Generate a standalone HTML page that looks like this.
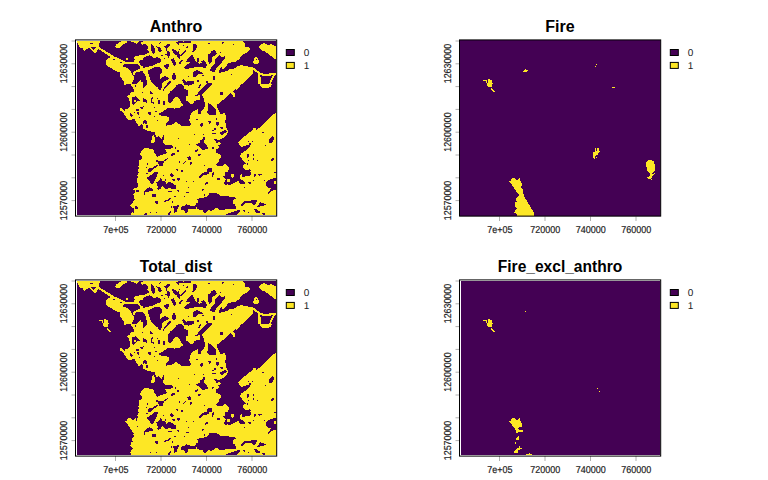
<!DOCTYPE html>
<html><head><meta charset="utf-8"><title>plot</title>
<style>
html,body{margin:0;padding:0;background:#fff;}
svg{display:block;}
text{font-family:"Liberation Sans",sans-serif;}
.t{font-size:16px;font-weight:bold;text-anchor:middle;fill:#000;}
.a{font-size:10px;text-rendering:geometricPrecision;stroke:#222;stroke-width:0.2px;text-anchor:middle;fill:#222;}
.l{font-size:10px;text-rendering:geometricPrecision;fill:#222;}
</style></head><body>
<svg width="768" height="480" viewBox="0 0 768 480">
<rect width="768" height="480" fill="#fff"/>
<g transform="translate(0,0)">
<text class="t" x="176" y="31.8">Anthro</text>
<rect x="77" y="41" width="199.3" height="174" fill="#440154"/>
<clipPath id="c0"><rect x="77" y="41" width="199.3" height="174"/></clipPath>
<g clip-path="url(#c0)" shape-rendering="crispEdges">
<clipPath id="c0t00"><rect x="76" y="40" width="67" height="44"/></clipPath>
<g clip-path="url(#c0t00)">
<polygon fill="#FDE725" points="76.9,40.9 100.0,40.9 100.0,42.6 98.5,44.1 98.5,46.2 100.3,48.1 98.5,49.2 97.3,50.3 96.3,52.4 94.8,53.8 93.4,52.4 92.3,50.5 90.7,48.7 88.8,47.8 86.8,49.2 84.4,50.8 82.9,49.2 82.6,48.1 80.1,47.5 78.8,45.5 77.7,43.7 76.9,42.8"/>
<polygon fill="#440154" points="89.6,42.6 92.5,42.6 92.5,44.1 89.6,44.1"/>
<polygon fill="#440154" points="91.1,47.3 95.7,47.3 94.8,49.2 93.4,50.1 92.0,48.7"/>
<polygon fill="#FDE725" points="98.5,46.2 100.3,47.8 102.6,49.2 105.3,50.8 108.5,52.8 111.8,54.7 114.5,56.3 112.7,57.9 109.9,56.5 107.2,54.7 104.4,52.8 101.7,51.2 99.4,49.6 98.0,48.7"/>
<polygon fill="#FDE725" points="107.6,58.8 110.4,57.4 112.7,57.0 115.0,56.5 117.7,57.9 120.5,59.2 123.7,60.9 126.0,62.5 124.6,64.0 123.2,65.7 123.7,67.0 126.0,67.5 128.7,68.9 130.5,70.7 131.0,73.0 132.4,74.4 133.8,76.2 133.8,79.4 132.8,80.8 131.9,84.0 123.7,84.0 123.7,81.2 122.3,79.4 120.9,77.6 120.0,75.3 120.0,72.5 117.7,71.6 114.5,70.2 112.2,68.9 109.9,67.5 107.6,66.6 106.2,64.8 106.1,62.0 106.7,59.7"/>
<polygon fill="#440154" points="113.1,58.8 115.0,58.8 115.0,60.0 113.1,60.0"/>
<polygon fill="#440154" points="120.0,62.0 122.3,62.0 122.3,63.4 120.0,63.4"/>
<polygon fill="#FDE725" points="123.2,61.5 127.3,62.0 133.8,62.0 134.7,64.0 131.0,64.0 127.3,64.3 124.6,64.0"/>
<polygon fill="#FDE725" points="115.2,46.4 116.3,44.6 118.2,43.2 120.0,41.6 126.9,41.1 126.9,42.3 125.0,43.7 122.8,44.6 121.4,46.4 120.0,47.8 116.3,47.8"/>
<polygon fill="#FDE725" points="126.0,57.9 128.1,57.9 128.1,60.0 126.0,60.0"/>
<polygon fill="#FDE725" points="130.1,40.9 139.2,40.9 138.3,42.3 137.0,44.1 135.6,42.8 132.8,42.3 131.0,41.8"/>
<polygon fill="#FDE725" points="141.5,42.3 143.0,41.8 143.0,45.5 142.0,45.3 141.3,44.1"/>
<polygon fill="#FDE725" points="133.3,58.3 134.7,56.5 139.2,55.4 143.8,54.7 143.8,70.2 141.5,69.3 140.2,67.5 139.2,65.7 137.4,64.3 134.7,64.0 133.3,62.0 134.7,59.7"/>
<polygon fill="#440154" points="139.2,61.1 141.1,60.2 143.8,60.6 143.8,66.6 141.5,65.7 140.2,64.3 139.2,62.9"/>
<polygon fill="#FDE725" points="143.8,67.5 143.8,71.2 139.2,71.6 136.5,72.1 135.1,73.5 134.2,76.2 132.4,74.4 133.3,72.1 135.1,70.7 138.3,69.5 140.6,68.4"/>
<polygon fill="#FDE725" points="136.5,84.0 138.3,81.7 140.2,80.3 141.3,80.3 141.5,82.2 143.8,82.6 143.8,84.9 136.5,84.9"/>
</g>
<clipPath id="c0t10"><rect x="143" y="40" width="67" height="44"/></clipPath>
<g clip-path="url(#c0t10)">
<polygon fill="#FDE725" points="142.5,39.5 210.8,39.5 210.8,84.9 142.5,84.9"/>
<polygon fill="#440154" points="143.0,44.6 144.8,44.1 147.1,45.0 148.0,47.3 147.6,50.1 146.7,52.4 144.8,54.2 143.0,54.7"/>
<polygon fill="#440154" points="150.8,44.6 153.1,44.1 154.5,46.4 154.9,49.2 155.4,52.8 153.5,53.8 151.7,52.4 151.1,49.6 150.3,47.3"/>
<polygon fill="#440154" points="156.8,46.4 159.0,46.9 160.9,49.2 161.3,51.5 159.5,52.4 158.1,50.5 156.8,48.7"/>
<polygon fill="#440154" points="164.5,46.4 166.4,44.6 169.6,44.1 169.6,46.0 168.2,47.8 168.7,50.1 170.0,51.9 169.6,54.7 168.7,57.0 167.3,56.0 166.4,54.2 164.5,53.8 165.0,51.9 166.4,50.1 165.9,48.2"/>
<polygon fill="#440154" points="176.5,40.0 190.7,40.0 190.7,42.3 187.0,42.8 184.2,43.7 181.5,43.2 179.2,44.6 177.4,43.7"/>
<polygon fill="#440154" points="172.3,49.6 174.6,49.2 176.5,50.5 177.4,52.4 179.2,53.8 180.6,55.6 179.7,57.9 178.3,58.3 176.9,56.5 175.1,54.7 173.7,52.8 172.8,51.5"/>
<polygon fill="#440154" points="187.5,46.0 188.8,46.9 187.9,48.7 186.1,50.5 184.2,52.8 182.4,55.1 181.0,56.5 180.4,55.1 182.0,53.3 183.8,51.0 185.6,48.7"/>
<polygon fill="#440154" points="193.0,44.1 195.7,43.7 197.1,45.5 196.6,48.2 195.2,50.1 193.9,51.0 193.0,52.4 192.0,51.9 193.0,49.2 193.2,46.9"/>
<polygon fill="#440154" points="143.0,58.3 145.8,57.4 148.5,56.0 151.7,55.6 154.9,57.9 158.1,57.4 160.4,58.8 160.9,61.5 159.5,62.9 156.8,63.4 154.0,64.8 151.2,65.2 148.5,66.1 145.8,67.0 143.0,68.0"/>
<polygon fill="#440154" points="147.1,69.3 149.4,68.0 153.1,67.0 156.8,66.6 160.4,67.5 162.7,69.3 162.2,71.6 160.9,73.5 160.0,76.2 160.4,78.5 162.7,76.7 165.0,75.8 167.8,76.2 169.6,78.0 167.8,80.3 165.9,82.2 164.1,84.9 150.8,84.9 150.3,81.2 149.4,78.5 148.5,75.8 148.0,72.5"/>
<polygon fill="#440154" points="143.0,73.0 144.4,73.5 145.8,76.7 146.7,80.3 147.1,84.9 143.0,84.9"/>
<polygon fill="#440154" points="163.6,65.7 165.9,64.3 169.1,64.0 169.6,65.7 168.2,67.5 167.3,69.8 165.9,68.4 164.5,67.5"/>
<polygon fill="#440154" points="171.0,59.2 173.2,58.3 174.6,60.6 175.5,62.9 176.0,65.7 174.6,66.6 173.2,64.8 171.9,62.5"/>
<polygon fill="#440154" points="182.0,59.7 183.2,60.2 182.0,62.0 180.1,64.0 179.2,63.4 180.6,61.5"/>
<polygon fill="#440154" points="186.1,61.1 187.9,59.2 189.8,57.4 191.6,55.1 193.0,54.7 193.4,57.0 194.3,58.8 195.2,61.1 197.1,62.0 198.0,63.4 200.3,62.5 202.1,60.6 204.0,60.2 205.3,62.9 206.2,66.6 206.7,69.3 204.4,69.8 201.7,68.4 198.9,67.5 196.2,68.0 193.4,68.4 190.7,68.9 187.5,69.3 184.2,69.8 184.2,67.0 186.1,65.7 187.9,64.3 187.0,62.5"/>
<polygon fill="#440154" points="197.1,58.3 198.9,57.9 199.1,60.6 198.0,62.5 196.9,61.1"/>
<polygon fill="#440154" points="208.5,53.8 210.8,53.8 210.8,63.8 208.5,63.4 208.1,58.3"/>
<polygon fill="#440154" points="193.0,73.0 195.2,70.7 198.0,70.7 199.4,71.6 202.6,72.1 201.7,73.5 198.9,73.9 197.5,75.3 195.7,76.7 193.9,77.6 192.5,76.7"/>
<polygon fill="#440154" points="172.3,75.8 173.7,73.0 175.1,74.4 176.5,77.1 175.5,79.4 173.7,79.9 172.2,78.5"/>
<polygon fill="#440154" points="181.5,80.3 184.2,79.0 185.2,80.8 187.9,81.7 190.7,80.3 193.0,79.4 194.3,81.2 193.9,84.9 182.4,84.9"/>
<polygon fill="#440154" points="197.1,80.3 199.4,79.9 199.8,82.2 198.0,83.1 196.9,82.2"/>
<polygon fill="#440154" points="207.2,81.2 208.5,80.8 209.0,84.9 207.2,84.9"/>
<polygon fill="#440154" points="187.9,75.8 189.3,75.8 189.3,77.1 187.9,77.1"/>
<polygon fill="#440154" points="163.6,57.4 165.0,57.4 165.0,58.8 163.6,58.8"/>
<polygon fill="#440154" points="159.0,41.8 160.9,41.8 160.0,43.7 158.6,44.1"/>
<polygon fill="#440154" points="208.1,42.8 210.8,42.8 210.8,44.6 208.5,44.4"/>
<polygon fill="#440154" points="201.7,74.8 204.0,74.4 203.5,75.8 201.7,76.2"/>
<polygon fill="#440154" points="168.7,81.2 171.4,80.3 170.5,82.6 169.1,84.9 167.3,84.9"/>
</g>
<clipPath id="c0t20"><rect x="210" y="40" width="67" height="44"/></clipPath>
<g clip-path="url(#c0t20)">
<polygon fill="#FDE725" points="209.5,40.0 242.1,40.0 244.4,42.8 245.3,45.0 244.8,47.3 247.6,46.9 249.9,48.2 249.4,50.1 247.6,51.5 245.8,53.3 243.0,54.7 240.7,56.0 240.2,57.9 238.4,59.7 237.7,60.3 235.9,61.7 233.7,62.5 231.9,62.0 230.7,62.8 227.5,63.7 226.7,65.5 224.8,67.8 222.8,69.0 221.4,67.0 220.5,68.1 219.1,70.2 219.2,73.0 209.5,73.0"/>
<polygon fill="#440154" points="209.5,53.8 210.0,53.6 211.5,51.5 213.6,50.1 215.6,50.6 216.7,53.3 216.1,54.7 214.4,55.6 212.9,56.8 212.1,58.2 211.7,60.3 211.5,62.5 210.4,63.5 209.2,63.5 209.2,59.7 209.4,57.4"/>
<polygon fill="#440154" points="219.3,55.0 220.5,55.9 221.7,57.6 223.1,57.3 224.6,56.1 224.8,59.1 223.5,60.3 222.0,62.0 220.5,63.7 218.8,65.5 217.3,67.2 215.6,68.7 215.3,71.3 215.9,72.5 213.8,72.5 212.1,71.3 210.4,70.7 210.4,69.0 211.5,67.2 212.9,65.5 213.8,64.3 214.9,63.2 215.3,59.6 216.7,57.9 218.2,56.1"/>
<polygon fill="#440154" points="221.5,42.3 223.8,41.8 223.3,43.7 221.5,44.1"/>
<polygon fill="#440154" points="232.7,43.7 234.0,43.7 234.0,45.0 232.7,45.0"/>
<polygon fill="#440154" points="219.9,51.7 221.2,51.7 221.2,53.0 219.9,53.0"/>
<polygon fill="#FDE725" points="209.5,71.6 219.2,72.5 220.5,72.7 223.8,71.9 226.0,71.3 228.1,70.4 229.5,69.2 231.3,68.7 234.8,68.4 236.6,67.0 238.3,66.0 240.0,65.5 241.2,65.2 246.7,66.1 250.3,67.0 253.1,67.5 253.5,70.2 253.1,73.0 251.2,75.3 249.4,76.7 247.6,78.5 245.8,80.8 243.9,82.6 242.1,84.9 209.5,84.9"/>
<polygon fill="#440154" points="212.8,76.2 215.0,76.2 215.0,80.8 212.8,80.8"/>
<polygon fill="#440154" points="230.9,73.7 232.2,73.7 232.2,75.0 230.9,75.0"/>
<polygon fill="#FDE725" points="252.6,67.5 254.9,68.6 257.7,70.7 260.4,72.8 260.0,74.8 257.2,73.0 254.9,71.2 252.9,69.5"/>
<polygon fill="#FDE725" points="260.0,73.0 265.0,73.9 273.2,73.0 277.8,72.1 277.8,74.4 273.7,75.3 265.0,75.9 260.4,75.3"/>
<polygon fill="#FDE725" points="257.7,72.5 260.2,73.0 260.4,76.7 260.9,80.3 261.3,84.9 257.7,84.9 257.7,80.3 257.5,76.7"/>
<polygon fill="#FDE725" points="273.2,74.8 274.6,75.3 273.2,78.5 271.9,81.2 270.5,84.9 268.7,84.9 270.0,81.2 271.6,78.0"/>
<polygon fill="#FDE725" points="259.0,46.4 260.4,44.6 264.1,43.2 265.9,44.1 268.7,45.0 271.0,44.1 274.2,45.5 277.8,46.4 277.8,59.7 274.2,59.2 272.8,57.0 270.5,56.0 268.7,54.7 266.8,52.8 265.0,51.5 262.2,50.5 260.0,49.2"/>
<polygon fill="#FDE725" points="254.9,56.5 256.3,56.5 257.7,58.3 259.0,60.6 258.6,63.4 255.8,64.0 253.5,63.4 253.1,61.5 254.0,59.7 254.5,57.9"/>
<polygon fill="#440154" points="255.8,58.8 257.3,58.8 257.3,60.4 255.8,60.4"/>
</g>
<clipPath id="c0t01"><rect x="76" y="84" width="67" height="44"/></clipPath>
<g clip-path="url(#c0t01)">
<polygon fill="#FDE725" points="123.7,83.5 126.0,83.5 126.0,84.9 123.7,84.9"/>
<polygon fill="#FDE725" points="131.0,83.5 143.8,83.5 143.8,125.2 141.5,124.3 140.2,125.4 138.8,126.0 137.4,124.3 136.0,122.5 135.1,120.2 133.8,118.4 131.5,119.6 129.2,119.9 126.9,118.7 126.0,116.1 124.1,114.2 122.3,112.0 120.5,110.6 120.0,108.6 121.8,108.0 123.2,109.8 124.6,111.0 126.0,108.6 127.3,109.8 128.7,107.8 130.1,106.5 130.3,103.7 129.6,101.0 129.2,99.1 127.3,97.3 127.3,95.7 129.6,94.8 131.0,92.7 133.3,91.8 134.7,90.2 133.3,88.6 132.1,86.8 131.2,85.1"/>
<polygon fill="#440154" points="131.9,97.8 133.8,96.8 136.0,96.4 137.4,97.8 139.2,99.1 139.7,100.5 137.4,101.0 136.0,101.9 134.7,103.7 134.2,105.5 132.8,104.6 132.1,102.3 131.9,100.0"/>
<polygon fill="#FDE725" points="133.9,100.0 136.0,99.6 136.5,101.4 134.7,102.3"/>
<polygon fill="#440154" points="136.0,109.2 138.8,109.2 138.8,111.0 136.0,111.0"/>
<polygon fill="#440154" points="130.1,113.3 131.9,113.8 132.8,115.6 131.0,117.0 129.9,115.6"/>
<polygon fill="#440154" points="137.4,112.4 139.2,112.0 139.2,114.7 137.6,114.7"/>
<polygon fill="#440154" points="134.7,85.4 135.8,85.4 135.8,86.8 134.7,86.8"/>
<polygon fill="#440154" points="141.5,91.8 143.8,91.8 143.8,93.2 141.5,93.2"/>
<polygon fill="#440154" points="140.2,107.4 142.5,107.4 143.8,108.8 140.6,108.6"/>
<polygon fill="#440154" points="139.2,117.0 140.3,117.0 140.3,118.1 139.2,118.1"/>
<polygon fill="#440154" points="133.6,112.0 135.1,111.5 135.1,113.2 133.8,113.3"/>
</g>
<clipPath id="c0t11"><rect x="143" y="84" width="67" height="44"/></clipPath>
<g clip-path="url(#c0t11)">
<polygon fill="#FDE725" points="142.5,83.5 210.8,83.5 210.8,128.9 142.5,128.9"/>
<polygon fill="#440154" points="176.9,83.5 184.2,83.5 184.2,86.3 185.6,87.7 187.0,89.5 187.5,92.2 186.5,95.0 185.6,97.8 185.2,100.0 187.0,101.4 189.3,102.3 190.7,104.2 193.0,103.7 195.2,101.9 198.0,101.0 200.3,99.1 199.8,96.8 198.9,95.0 200.8,94.1 202.6,95.9 204.0,98.7 204.6,101.4 204.4,105.1 203.0,107.4 201.7,108.8 202.1,111.0 201.2,113.3 199.4,114.7 197.5,114.2 197.1,112.0 198.0,109.7 195.7,110.1 193.4,111.5 191.1,112.9 190.2,115.6 189.3,118.4 188.8,121.1 189.8,123.4 191.1,125.2 189.8,126.2 187.0,125.7 184.2,126.6 181.5,125.7 179.2,124.3 177.4,123.0 175.5,121.6 173.7,123.4 171.4,124.8 168.7,125.2 165.5,125.7 166.4,123.4 168.2,121.6 169.6,119.3 169.1,117.5 166.8,116.5 163.6,116.1 160.9,115.6 159.0,114.2 159.5,112.9 161.8,112.0 164.1,110.6 166.4,109.2 167.8,107.7 170.5,108.0 174.2,108.6 177.8,108.0 180.6,107.4 182.4,105.5 182.6,103.2 181.5,101.4 180.1,99.6 178.8,98.7 178.8,96.4 177.4,95.0 175.5,95.9 173.7,97.8 172.3,100.0 171.4,102.3 170.0,103.7 168.7,102.8 167.8,101.0 167.6,98.7 168.2,96.4 167.8,94.1 169.1,92.2 171.4,90.9 174.2,89.0 176.0,86.8"/>
<polygon fill="#FDE725" points="175.1,101.0 176.2,101.0 176.2,102.0 175.1,102.0"/>
<polygon fill="#440154" points="142.5,83.5 147.6,83.5 147.6,85.8 145.8,86.8 143.9,88.1 142.5,88.6"/>
<polygon fill="#440154" points="153.1,83.5 161.3,83.5 161.8,85.8 160.9,88.6 161.3,90.4 160.0,91.3 158.6,89.5 158.1,87.7 156.3,88.1 154.5,86.8 153.5,85.4"/>
<polygon fill="#440154" points="150.3,91.3 152.2,91.8 153.1,93.6 151.7,95.0 150.3,94.1"/>
<polygon fill="#440154" points="142.5,99.6 144.8,99.1 146.7,101.0 147.1,103.2 145.3,102.8 142.5,101.4"/>
<polygon fill="#440154" points="150.8,98.7 152.6,97.8 154.0,97.3 153.5,99.1 152.2,100.5 151.7,101.9 153.1,102.8 154.9,103.2 154.5,104.3 152.2,103.7 150.8,102.3 150.2,100.5"/>
<polygon fill="#440154" points="158.1,101.4 160.0,101.0 160.4,103.7 159.5,105.1 158.1,104.2"/>
<polygon fill="#440154" points="162.7,101.9 165.0,101.4 165.5,103.7 164.5,105.1 163.2,104.6"/>
<polygon fill="#440154" points="148.3,112.4 150.8,112.0 151.2,113.8 149.9,115.2 148.3,114.2"/>
<polygon fill="#440154" points="142.5,120.7 145.8,120.2 147.1,122.0 146.7,124.3 144.8,123.4 142.5,123.9"/>
<polygon fill="#440154" points="146.2,125.2 148.0,124.8 148.0,128.9 146.2,128.9"/>
<polygon fill="#440154" points="207.2,83.5 210.8,83.5 210.8,85.8 207.6,86.3"/>
<polygon fill="#440154" points="208.1,103.7 210.8,103.2 210.8,114.7 208.5,114.2 207.6,111.5 207.9,106.9"/>
<polygon fill="#440154" points="208.1,121.1 210.8,120.7 210.8,123.9 208.3,123.9"/>
<polygon fill="#440154" points="200.8,123.4 202.6,123.0 203.0,125.2 201.7,128.9 200.3,128.9 200.6,125.7"/>
<polygon fill="#440154" points="156.8,97.8 157.8,97.8 157.8,98.8 156.8,98.8"/>
<polygon fill="#440154" points="154.0,106.9 155.1,106.9 155.1,108.0 154.0,108.0"/>
<polygon fill="#440154" points="155.4,110.6 156.8,110.6 156.8,112.0 155.4,112.0"/>
<polygon fill="#440154" points="154.0,115.6 155.1,115.6 155.1,116.8 154.0,116.8"/>
<polygon fill="#440154" points="156.8,119.8 158.1,119.8 158.1,121.1 156.8,121.1"/>
<polygon fill="#440154" points="197.1,120.2 198.2,120.2 198.2,121.4 197.1,121.4"/>
<polygon fill="#440154" points="142.5,105.1 144.1,105.1 144.1,106.9 142.5,106.9"/>
<polygon fill="#440154" points="198.9,91.3 200.3,90.4 201.2,91.8 199.4,93.6 197.1,95.5 194.8,96.4 194.3,95.5 196.6,93.6"/>
</g>
<clipPath id="c0t21"><rect x="210" y="84" width="67" height="44"/></clipPath>
<g clip-path="url(#c0t21)">
<polygon fill="#FDE725" points="209.5,83.5 241.2,83.5 240.2,85.8 238.4,88.1 236.6,90.0 234.3,90.9 232.9,92.2 234.3,94.1 234.9,95.9 233.7,97.8 232.0,96.4 230.9,94.1 229.7,94.5 227.9,96.4 225.6,98.2 223.3,100.0 221.0,101.4 220.5,103.2 218.2,104.6 216.4,105.5 215.0,104.6 213.7,102.8 211.8,103.7 209.5,104.6"/>
<polygon fill="#440154" points="220.1,92.2 222.8,92.1 223.0,94.5 220.5,95.0"/>
<polygon fill="#FDE725" points="211.8,103.7 213.7,102.8 215.5,104.6 217.3,106.5 219.2,108.3 219.9,110.6 219.2,112.4 221.0,114.2 223.3,112.0 224.7,113.3 225.1,115.6 227.0,116.1 225.6,117.5 224.7,119.3 226.0,121.1 227.0,123.4 226.5,125.7 227.0,128.9 209.5,128.9 209.5,115.2 212.3,115.6 214.6,114.7 216.0,112.4 216.4,109.7 215.5,107.4 213.7,106.0 212.3,104.6"/>
<polygon fill="#440154" points="215.0,118.4 216.9,117.9 216.4,119.8 215.0,120.2"/>
<polygon fill="#440154" points="216.4,122.5 219.2,122.0 219.6,123.9 217.3,125.2 215.5,126.6 215.0,125.2"/>
<polygon fill="#440154" points="209.5,121.1 210.9,121.1 210.9,123.0 209.5,123.0"/>
<polygon fill="#440154" points="221.5,126.6 222.8,126.6 222.8,128.9 221.5,128.9"/>
<polygon fill="#FDE725" points="259.0,83.5 272.3,83.5 271.0,86.3 268.7,87.7 265.9,88.1 262.7,88.6 260.9,86.8"/>
<polygon fill="#FDE725" points="277.8,110.6 277.8,128.9 259.0,128.9 261.3,125.7 265.0,122.5 268.7,119.3 272.3,115.6 276.2,112.0"/>
</g>
<clipPath id="c0t02"><rect x="76" y="128" width="67" height="44"/></clipPath>
<g clip-path="url(#c0t02)">
<polygon fill="#FDE725" points="143.8,149.1 142.0,150.5 140.6,152.3 140.2,154.1 141.5,156.0 142.0,158.2 140.6,159.6 139.2,160.1 139.1,164.7 138.3,166.5 138.8,168.3 138.2,170.2 138.2,172.9 143.8,172.9"/>
</g>
<clipPath id="c0t12"><rect x="143" y="128" width="67" height="44"/></clipPath>
<g clip-path="url(#c0t12)">
<polygon fill="#FDE725" points="142.5,127.5 210.8,127.5 210.8,172.9 142.5,172.9"/>
<polygon fill="#440154" points="142.5,128.9 145.8,129.8 148.5,131.2 152.2,131.7 154.9,132.6 155.4,135.3 156.8,137.2 159.0,136.2 160.0,138.1 161.3,139.0 162.7,137.2 163.0,135.3 164.1,135.3 163.9,138.1 163.2,140.8 163.6,143.6 165.5,144.5 168.2,145.0 171.4,145.4 173.7,146.8 173.2,148.2 170.5,148.6 167.3,148.6 165.0,149.5 166.4,151.8 166.8,153.2 164.5,154.1 161.8,155.0 159.0,156.0 156.8,156.9 155.8,154.6 154.5,152.8 154.0,150.9 152.6,149.5 150.3,148.6 146.7,148.3 142.5,148.6"/>
<polygon fill="#FDE725" points="151.7,135.8 153.5,135.2 154.5,137.2 155.4,139.5 154.9,141.8 153.1,143.1 151.4,142.7 151.2,140.8 152.2,139.0 151.7,137.2"/>
<polygon fill="#440154" points="171.4,153.7 173.7,152.8 175.1,153.7 174.2,155.0 172.3,156.0 171.0,155.5"/>
<polygon fill="#440154" points="176.9,150.0 178.9,150.0 178.9,152.0 176.9,152.0"/>
<polygon fill="#440154" points="174.6,146.8 176.0,146.8 176.0,148.6 174.6,148.6"/>
<polygon fill="#440154" points="177.8,137.6 179.2,137.6 179.2,139.0 177.8,139.0"/>
<polygon fill="#440154" points="188.8,143.8 190.2,143.8 190.2,145.2 188.8,145.2"/>
<polygon fill="#440154" points="193.9,133.7 195.2,133.7 195.2,135.2 193.9,135.2"/>
<polygon fill="#440154" points="203.0,133.7 204.2,133.7 204.2,135.2 203.0,135.2"/>
<polygon fill="#440154" points="203.0,137.2 204.6,136.7 204.9,139.0 204.0,140.8 204.4,142.7 206.2,144.5 207.6,147.2 208.1,149.5 206.2,148.6 204.0,150.0 201.7,149.5 199.8,147.7 198.0,145.9 196.2,144.5 198.0,143.6 200.3,142.7 199.8,140.4 201.7,139.9 203.0,139.0"/>
<polygon fill="#440154" points="195.2,150.0 197.1,149.3 198.5,149.8 197.1,150.9 196.2,152.0 195.1,151.4"/>
<polygon fill="#440154" points="198.0,154.6 200.8,153.8 201.2,154.8 198.9,156.0 198.0,155.7"/>
<polygon fill="#440154" points="187.0,157.3 188.8,156.6 189.8,156.0 190.7,157.8 191.1,159.6 189.3,160.1 187.9,159.2"/>
<polygon fill="#440154" points="155.8,160.1 158.1,160.5 160.9,161.0 163.6,160.8 165.0,159.6 167.0,158.2 167.9,158.7 166.4,160.1 164.5,161.5 163.2,163.3 162.7,165.6 161.3,166.5 159.5,165.6 158.4,163.8 157.7,161.9 156.0,161.5"/>
<polygon fill="#440154" points="146.7,162.8 148.0,162.8 148.0,164.7 146.7,164.7"/>
<polygon fill="#440154" points="148.0,169.2 149.9,168.3 152.2,167.9 154.5,166.5 156.8,164.7 157.7,165.6 155.8,167.4 153.5,168.8 151.7,170.2 150.8,172.9 148.0,172.9"/>
<polygon fill="#440154" points="145.8,167.0 147.1,167.0 147.1,168.2 145.8,168.2"/>
<polygon fill="#440154" points="178.9,161.0 180.1,161.0 180.1,162.8 178.9,162.8"/>
<polygon fill="#440154" points="184.7,161.5 186.1,160.5 185.6,162.4 183.8,164.2 182.9,165.1 182.6,164.2"/>
<polygon fill="#440154" points="190.2,162.4 192.0,161.9 192.0,163.8 190.7,165.1 189.8,164.7"/>
<polygon fill="#440154" points="203.5,164.7 205.2,164.7 205.2,166.0 203.5,166.0"/>
<polygon fill="#440154" points="207.2,169.7 208.5,168.3 210.8,167.4 210.8,172.9 207.2,172.9"/>
<polygon fill="#440154" points="176.0,168.8 177.4,169.2 178.3,171.1 176.9,170.6"/>
<polygon fill="#440154" points="181.0,170.2 182.9,169.7 183.2,172.9 181.5,172.9"/>
</g>
<clipPath id="c0t22"><rect x="210" y="128" width="67" height="44"/></clipPath>
<g clip-path="url(#c0t22)">
<polygon fill="#FDE725" points="209.5,127.5 277.8,127.5 277.8,172.9 209.5,172.9"/>
<polygon fill="#440154" points="227.9,127.5 253.1,127.5 252.6,130.3 250.3,131.7 248.0,133.5 246.7,135.3 244.4,135.8 243.0,137.6 240.7,139.5 238.9,141.3 238.0,142.7 239.3,144.5 241.6,146.8 244.4,145.9 247.6,145.0 250.3,145.4 249.4,147.2 247.6,148.6 245.8,150.5 243.5,151.8 241.6,153.2 240.2,155.0 240.7,157.3 242.5,159.6 244.4,161.5 246.2,163.3 244.4,164.2 243.0,165.6 243.5,168.3 244.8,169.7 248.0,170.2 250.3,168.8 250.8,170.6 249.4,172.9 227.0,172.9 228.3,170.2 229.2,168.3 228.3,166.5 226.5,164.7 224.7,164.2 222.8,165.6 220.1,165.6 217.8,166.0 216.0,165.1 216.9,163.3 218.7,161.5 219.6,159.2 221.0,157.3 221.0,155.0 219.2,153.7 216.9,153.2 215.5,151.4 216.4,149.5 217.8,148.6 219.2,147.7 218.7,145.9 217.3,145.0 216.9,143.1 215.5,141.3 214.1,139.9 214.6,138.5 216.9,139.5 219.6,139.5 222.4,138.5 224.2,137.2 225.6,135.8 227.4,134.0 227.9,131.7"/>
<polygon fill="#FDE725" points="216.9,143.1 219.2,142.2 221.0,143.1 220.5,144.5 218.7,145.4 217.3,145.0"/>
<polygon fill="#440154" points="211.8,128.9 215.0,128.5 214.6,130.3 212.3,130.8"/>
<polygon fill="#440154" points="211.4,133.0 215.5,132.6 215.7,134.0 211.8,134.4"/>
<polygon fill="#440154" points="220.1,132.1 222.4,131.2 224.7,129.8 227.0,130.8 227.4,132.1 225.1,133.0 223.3,134.4 221.5,135.3 220.1,134.0"/>
<polygon fill="#440154" points="211.8,146.8 213.7,147.2 213.8,148.9 212.0,148.6"/>
<polygon fill="#440154" points="269.1,139.9 270.5,138.1 272.3,136.2 274.2,137.2 274.6,139.0 273.2,140.8 271.4,142.7 269.4,142.7"/>
<polygon fill="#440154" points="271.0,159.6 272.8,158.2 274.2,157.8 273.7,159.6 272.3,161.0 271.0,161.0"/>
<polygon fill="#440154" points="262.2,131.8 264.1,131.8 264.1,133.0 262.2,133.0"/>
<polygon fill="#440154" points="265.0,144.7 266.1,144.7 266.1,145.9 265.0,145.9"/>
<polygon fill="#440154" points="246.7,154.6 248.5,154.1 249.0,156.0 248.0,157.8 247.1,157.3"/>
<polygon fill="#440154" points="252.6,154.1 254.0,154.1 254.0,156.4 252.6,156.4"/>
<polygon fill="#440154" points="252.6,157.8 254.0,157.8 254.0,160.1 252.6,160.1"/>
<polygon fill="#440154" points="256.8,159.6 258.1,159.6 258.1,161.0 256.8,161.0"/>
<polygon fill="#440154" points="247.8,159.6 249.0,159.6 249.0,161.0 247.8,161.0"/>
<polygon fill="#440154" points="246.7,162.8 248.0,162.4 248.0,165.6 246.7,165.1"/>
<polygon fill="#440154" points="255.8,127.5 258.1,127.5 257.7,129.4 256.3,129.8"/>
<polygon fill="#440154" points="209.5,168.3 211.8,167.9 211.8,171.5 209.5,172.9"/>
<polygon fill="#440154" points="248.0,140.8 249.4,140.8 249.4,142.2 248.0,142.2"/>
<polygon fill="#440154" points="251.7,140.8 252.9,140.8 252.9,141.9 251.7,141.9"/>
<polygon fill="#440154" points="249.0,143.1 250.8,143.1 250.8,145.0 249.0,145.0"/>
<polygon fill="#440154" points="219.2,128.5 221.0,128.0 221.0,129.1 219.2,129.4"/>
</g>
<clipPath id="c0t03"><rect x="76" y="172" width="67" height="44"/></clipPath>
<g clip-path="url(#c0t03)">
<polygon fill="#FDE725" points="138.8,171.5 143.8,171.5 143.8,216.9 131.0,216.9 131.5,213.2 133.3,211.0 134.7,209.1 132.8,207.8 131.0,206.8 130.1,205.5 131.5,203.6 133.3,201.8 134.7,199.5 134.2,196.8 133.3,194.0 134.7,192.6 135.6,190.8 133.3,189.4 133.8,187.6 136.5,187.8 138.3,187.1 138.2,183.9 137.0,181.6 136.5,179.8 137.9,177.5 137.2,175.2 138.3,173.4"/>
<polygon fill="#440154" points="136.0,189.9 138.8,189.9 138.8,191.7 136.0,191.7"/>
<polygon fill="#440154" points="134.7,206.4 136.5,206.4 138.3,207.8 137.0,209.1 135.1,208.7"/>
<polygon fill="#440154" points="132.8,211.4 134.2,211.4 134.2,212.8 132.8,212.8"/>
</g>
<clipPath id="c0t13"><rect x="143" y="172" width="67" height="44"/></clipPath>
<g clip-path="url(#c0t13)">
<polygon fill="#FDE725" points="142.5,171.5 210.8,171.5 210.8,216.9 142.5,216.9"/>
<polygon fill="#440154" points="146.7,177.5 149.4,176.1 152.2,174.3 154.9,171.5 157.7,171.5 157.7,173.8 156.8,176.1 155.8,178.4 154.9,180.7 153.5,183.0 152.2,184.4 150.8,183.0 149.4,181.2 148.0,179.3"/>
<polygon fill="#440154" points="156.3,182.5 158.1,181.6 160.0,179.8 160.4,178.4 161.8,179.3 162.7,181.2 164.5,180.7 165.0,178.4 165.7,179.3 165.5,181.6 166.4,183.9 168.2,182.5 170.5,182.1 173.2,183.5 175.5,185.3 176.0,187.6 175.1,189.4 172.3,189.0 170.5,188.0 168.2,188.5 165.9,189.0 164.1,187.6 162.7,186.2 161.3,187.1 160.4,189.0 158.6,189.9 157.5,188.5 157.7,186.2 156.8,184.4"/>
<polygon fill="#440154" points="169.6,174.8 171.4,173.4 172.8,174.8 174.6,175.2 173.2,176.6 171.0,176.6"/>
<polygon fill="#440154" points="172.3,179.3 174.6,179.3 175.1,180.7 173.7,181.2"/>
<polygon fill="#440154" points="176.5,178.4 179.2,178.2 180.8,178.6 180.1,180.2 178.3,180.7 176.9,180.1"/>
<polygon fill="#440154" points="143.9,191.2 145.8,189.4 147.6,188.0 149.4,187.1 151.7,188.5 153.5,189.9 153.1,191.2 151.2,190.8 149.4,191.2 148.0,192.6 146.2,191.7 144.8,192.6 144.8,194.5 143.9,194.5"/>
<polygon fill="#440154" points="152.2,194.0 155.8,194.0 155.8,196.9 152.2,196.9"/>
<polygon fill="#440154" points="167.9,190.8 171.9,190.8 171.9,192.0 167.9,192.0"/>
<polygon fill="#440154" points="177.4,190.3 179.7,189.9 179.2,191.2 177.8,192.0"/>
<polygon fill="#440154" points="186.1,191.7 188.8,191.7 188.8,192.9 186.1,192.9"/>
<polygon fill="#440154" points="154.9,201.3 156.8,200.9 158.6,201.8 158.1,203.2 156.8,204.1 155.4,203.2"/>
<polygon fill="#440154" points="164.1,200.9 165.9,200.4 168.2,199.5 170.0,198.1 171.0,198.6 169.6,200.0 167.8,200.9 165.5,201.8 164.3,202.1"/>
<polygon fill="#440154" points="174.2,195.8 175.8,195.8 175.8,196.9 174.2,196.9"/>
<polygon fill="#440154" points="184.1,195.8 185.2,195.8 185.2,196.9 184.1,196.9"/>
<polygon fill="#440154" points="172.2,200.9 173.2,200.9 173.2,202.7 172.2,202.7"/>
<polygon fill="#440154" points="173.2,206.4 175.5,205.9 178.8,205.0 178.6,207.3 177.4,209.6 176.5,211.9 174.6,212.8 173.2,212.3 174.2,210.0 173.7,208.2"/>
<polygon fill="#440154" points="171.0,206.4 172.2,206.4 172.2,208.2 171.0,208.2"/>
<polygon fill="#440154" points="167.8,213.7 169.6,211.4 171.0,211.0 170.5,213.2 169.1,216.9 167.3,216.9"/>
<polygon fill="#440154" points="180.6,207.8 182.4,206.4 184.7,205.5 186.1,204.1 187.9,205.0 189.8,204.5 190.7,205.9 193.0,206.4 194.3,208.2 193.0,209.6 190.7,208.7 188.4,208.7 187.9,211.0 187.0,213.2 185.2,213.2 184.7,211.0 182.9,210.0 181.0,209.6"/>
<polygon fill="#440154" points="195.7,204.1 198.0,202.2 197.5,199.5 199.8,198.1 202.6,197.7 205.3,197.2 208.1,196.3 209.0,193.5 210.8,193.1 210.8,209.6 208.1,210.0 206.7,212.3 204.0,212.8 202.6,210.5 199.8,210.0 197.5,209.1 196.6,207.3 195.2,205.9"/>
<polygon fill="#440154" points="193.0,206.4 196.2,205.9 196.6,208.2 194.3,209.1"/>
<polygon fill="#440154" points="198.9,177.0 200.3,174.8 201.7,173.4 204.4,172.5 207.2,171.5 209.0,171.5 208.5,173.8 206.2,174.8 204.4,174.6 202.6,175.7 201.2,177.5 199.7,178.0"/>
<polygon fill="#440154" points="205.2,183.0 207.2,182.1 208.8,183.0 207.2,184.4 205.3,184.7"/>
<polygon fill="#440154" points="202.1,189.4 204.0,189.0 203.0,190.8 202.1,190.8"/>
<polygon fill="#440154" points="204.0,194.0 205.2,194.0 205.2,196.0 204.0,196.0"/>
<polygon fill="#440154" points="146.2,172.9 148.0,172.9 148.0,174.0 146.2,174.0"/>
<polygon fill="#440154" points="163.0,174.8 164.1,174.8 164.1,176.1 163.0,176.1"/>
<polygon fill="#440154" points="185.6,180.7 187.0,180.7 187.0,181.9 185.6,181.9"/>
<polygon fill="#440154" points="193.0,180.7 194.2,180.7 194.2,181.9 193.0,181.9"/>
<polygon fill="#440154" points="187.9,186.7 189.0,186.7 189.0,187.8 187.9,187.8"/>
<polygon fill="#440154" points="149.9,211.9 151.1,211.9 151.1,213.0 149.9,213.0"/>
<polygon fill="#440154" points="156.0,211.9 157.2,211.9 157.2,213.0 156.0,213.0"/>
<polygon fill="#440154" points="143.9,213.7 147.1,213.2 147.6,216.9 143.9,216.9"/>
</g>
<clipPath id="c0t23"><rect x="210" y="172" width="67" height="44"/></clipPath>
<g clip-path="url(#c0t23)">
<polygon fill="#FDE725" points="209.5,171.5 277.8,171.5 277.8,216.9 209.5,216.9"/>
<polygon fill="#440154" points="224.2,171.5 250.8,171.5 250.8,174.8 248.5,176.1 245.8,176.1 243.9,177.5 242.5,176.6 242.1,174.3 240.7,174.3 239.8,176.1 240.2,178.4 242.1,180.2 244.4,181.6 244.8,183.5 243.0,184.4 240.7,183.9 238.9,182.5 238.4,180.7 236.6,181.6 234.3,183.0 232.0,183.9 229.7,185.3 227.9,184.4 226.0,184.8 224.2,183.9 224.7,181.6 226.0,179.8 225.1,178.0 223.8,178.4 223.3,176.6 225.1,175.7 225.6,173.8"/>
<polygon fill="#FDE725" points="227.4,179.3 229.2,178.4 230.6,179.8 229.7,181.6 228.3,182.5 227.2,181.2"/>
<polygon fill="#FDE725" points="231.1,174.3 232.9,173.4 234.0,174.8 233.7,177.0 232.0,178.0 230.9,176.6"/>
<polygon fill="#440154" points="216.9,178.0 220.1,178.0 220.1,179.5 216.9,179.5"/>
<polygon fill="#440154" points="211.8,174.3 213.2,172.5 214.6,171.5 214.1,173.8 213.2,175.7 212.8,177.5 211.8,177.0"/>
<polygon fill="#440154" points="254.0,174.3 255.8,173.8 255.8,175.7 254.5,177.0 253.8,176.1"/>
<polygon fill="#440154" points="258.1,173.8 261.3,173.7 261.8,174.8 259.5,175.7 258.4,175.2"/>
<polygon fill="#440154" points="248.0,181.6 250.3,181.6 250.8,183.5 249.4,183.9 248.0,183.0"/>
<polygon fill="#440154" points="243.9,186.7 245.3,186.7 245.3,188.0 243.9,188.0"/>
<polygon fill="#440154" points="252.6,179.8 254.0,179.8 254.0,181.0 252.6,181.0"/>
<polygon fill="#440154" points="264.1,179.8 265.2,179.8 265.2,181.0 264.1,181.0"/>
<polygon fill="#440154" points="265.9,182.5 268.2,180.7 270.5,179.3 273.2,178.4 277.8,178.0 277.8,189.4 274.2,189.9 272.3,190.8 270.5,192.2 268.7,194.0 267.8,193.1 269.6,190.8 270.5,188.5 268.7,187.6 266.8,186.7 266.1,184.8"/>
<polygon fill="#FDE725" points="274.2,180.7 277.8,180.7 277.8,184.4 274.2,184.4"/>
<polygon fill="#440154" points="209.5,193.1 216.4,193.1 218.7,194.0 220.1,195.7 224.7,196.0 228.8,195.7 229.7,196.8 234.8,196.9 236.1,198.1 234.3,199.5 232.5,200.9 232.9,203.2 234.8,204.5 236.1,206.4 235.7,208.7 232.9,209.4 228.3,209.1 223.8,209.6 219.2,209.8 217.3,208.2 216.0,207.3 214.1,209.1 212.3,210.5 209.5,210.5"/>
<polygon fill="#440154" points="226.0,214.6 229.2,213.2 232.9,211.9 236.6,210.5 240.2,210.0 239.8,211.9 237.5,213.7 234.8,216.9 226.0,216.9"/>
<polygon fill="#440154" points="241.6,203.6 243.5,202.2 245.3,200.9 248.5,200.9 251.2,200.4 254.0,200.0 256.8,200.4 256.3,202.7 255.4,204.5 253.1,204.5 251.2,203.2 249.0,202.7 246.7,202.7 244.4,203.6 243.0,205.5 241.2,205.5"/>
<polygon fill="#440154" points="257.2,206.4 259.0,204.1 260.0,202.2 261.8,203.2 264.1,203.6 265.9,204.5 263.6,205.5 261.3,206.1 259.5,206.8 257.7,207.3"/>
<polygon fill="#440154" points="253.5,209.1 255.4,208.7 257.2,210.0 259.5,211.4 260.0,212.8 258.1,213.7 256.8,212.8 254.9,211.0"/>
<polygon fill="#440154" points="243.0,210.5 244.8,210.0 245.8,211.4 243.9,211.9"/>
<polygon fill="#440154" points="262.2,213.2 265.0,213.1 264.5,214.6 262.7,214.9"/>
<polygon fill="#440154" points="247.6,211.9 249.0,211.9 249.0,213.0 247.6,213.0"/>
<polygon fill="#440154" points="274.2,171.5 277.8,171.5 277.8,172.9 274.2,172.9"/>
</g>
<clipPath id="c0s143_40"><rect x="143" y="40" width="48" height="30"/></clipPath>
<g clip-path="url(#c0s143_40)">
<polygon fill="#FDE725" points="142.7,39.7 191.4,39.7 191.4,70.6 142.7,70.6"/>
<polygon fill="#440154" points="142.7,44.4 144.2,44.1 145.8,44.4 147.4,45.9 148.0,47.5 147.4,49.4 148.3,50.9 148.9,52.2 147.7,53.4 146.4,54.1 144.9,54.7 142.7,55.0"/>
<polygon fill="#440154" points="150.8,44.7 151.8,44.1 153.0,45.0 153.9,46.9 154.9,49.4 155.2,51.9 154.6,53.4 153.0,53.8 152.1,52.2 151.4,50.3 150.5,49.4 151.1,47.5 150.8,45.9"/>
<polygon fill="#440154" points="156.1,45.9 157.1,46.2 158.3,47.2 159.6,47.5 160.8,48.8 161.8,50.3 161.1,51.6 159.2,51.9 158.3,50.9 158.0,49.4 157.7,47.8 156.4,46.9"/>
<polygon fill="#440154" points="158.9,43.1 159.9,42.2 160.8,42.2 160.8,43.1 159.9,43.9 159.1,43.9"/>
<polygon fill="#440154" points="164.2,46.2 165.8,45.9 166.8,44.7 168.0,44.1 169.9,44.4 169.9,45.6 168.6,46.2 168.3,48.1 167.1,48.4 167.1,50.3 168.0,51.2 169.6,51.6 169.9,53.4 169.9,55.6 168.9,56.6 168.9,57.8 168.0,57.5 167.7,55.9 166.4,55.3 164.6,54.7 164.6,54.1 166.4,53.8 167.1,52.5 166.4,51.2 166.1,49.4 165.8,47.8 164.6,47.5"/>
<polygon fill="#440154" points="176.1,42.5 177.1,41.6 180.5,41.2 183.6,41.6 186.8,40.9 191.4,40.8 191.4,42.5 189.2,42.8 186.8,42.5 184.2,43.1 183.0,42.8 181.1,43.4 179.2,43.1 178.6,44.7 177.7,44.1 176.4,43.4"/>
<polygon fill="#440154" points="172.1,49.4 173.3,49.1 174.2,50.0 175.5,50.3 176.4,51.2 177.4,52.2 178.3,51.2 178.9,50.9 179.2,52.5 179.6,54.1 180.2,55.6 179.9,57.5 179.6,58.8 178.3,58.1 177.4,56.6 176.4,55.3 175.2,54.7 173.9,54.1 173.0,52.5 172.4,50.9"/>
<polygon fill="#440154" points="186.1,50.3 185.5,51.6 184.2,52.8 183.0,54.1 181.8,55.3 180.8,56.2 180.4,55.6 181.4,54.4 182.7,53.1 183.9,51.9 185.0,50.6 185.6,49.7"/>
<polygon fill="#440154" points="186.8,46.6 187.7,45.9 188.6,46.6 188.3,47.8 187.1,48.4 186.4,47.8"/>
<polygon fill="#440154" points="178.9,49.1 179.9,49.1 179.9,50.0 178.9,50.0"/>
<polygon fill="#440154" points="183.0,44.9 183.9,44.9 183.9,45.8 183.0,45.8"/>
<polygon fill="#440154" points="163.9,58.0 164.9,58.0 164.9,58.9 163.9,58.9"/>
<polygon fill="#440154" points="161.1,54.9 163.0,54.9 163.0,55.6 161.1,55.6"/>
<polygon fill="#440154" points="142.7,58.1 144.9,57.2 146.8,56.2 149.2,55.3 151.1,55.6 152.4,56.9 154.2,58.1 156.1,57.5 157.7,57.2 159.2,58.1 160.5,59.1 160.8,61.2 159.9,62.5 158.3,62.8 156.4,63.1 154.9,64.1 153.0,65.0 150.5,65.6 148.0,66.2 145.5,67.2 142.7,67.8"/>
<polygon fill="#440154" points="148.9,69.4 151.1,68.4 153.9,67.5 156.4,66.6 157.7,66.2 159.2,67.5 161.1,68.4 161.8,70.6 148.9,70.6"/>
<polygon fill="#440154" points="171.1,59.4 172.4,58.8 173.6,58.4 174.2,60.0 175.5,61.6 175.8,63.8 175.8,66.6 174.6,65.6 173.3,64.7 172.4,63.1 172.1,61.6 171.2,60.6"/>
<polygon fill="#440154" points="163.3,66.6 164.6,65.6 166.4,64.7 167.1,64.1 168.0,65.0 169.2,64.4 169.9,65.3 168.9,66.2 168.6,67.8 167.7,69.1 167.1,70.6 166.1,69.4 164.9,68.1 163.9,67.5"/>
<polygon fill="#440154" points="182.1,59.4 183.0,59.7 182.4,60.9 181.1,62.2 180.5,63.4 179.2,63.8 179.1,62.8 180.2,61.6 181.1,60.3"/>
<polygon fill="#440154" points="191.4,55.6 189.6,57.2 188.0,58.8 186.8,60.0 186.1,61.6 187.1,62.5 187.7,64.1 186.8,65.0 185.5,66.2 184.2,67.5 184.2,70.6 187.1,70.6 188.0,69.1 189.6,68.1 191.4,67.8"/>
</g>
<clipPath id="c0s143_62"><rect x="143" y="62" width="67" height="44"/></clipPath>
<g clip-path="url(#c0s143_62)">
<polygon fill="#FDE725" points="142.5,61.5 210.8,61.5 210.8,106.9 142.5,106.9"/>
<polygon fill="#440154" points="142.5,61.5 160.4,61.5 160.0,62.9 156.8,63.4 154.0,65.2 150.8,66.1 147.6,67.0 144.8,67.5 142.5,68.0"/>
<polygon fill="#440154" points="142.5,73.0 144.4,73.9 145.8,76.7 146.7,80.3 147.1,84.0 145.8,85.8 143.9,87.7 142.5,88.1"/>
<polygon fill="#440154" points="147.6,70.7 149.9,69.3 153.1,68.0 156.8,66.6 160.0,67.0 161.8,68.9 162.7,71.2 161.3,73.0 160.0,74.8 159.5,77.1 160.0,79.4 162.2,77.6 164.5,76.2 167.3,76.7 169.1,78.0 167.8,79.9 165.9,80.3 163.6,81.7 162.2,84.0 161.8,86.8 161.3,89.5 160.0,90.9 158.6,89.5 157.7,87.2 155.8,86.3 154.0,84.9 152.6,83.5 151.2,81.7 150.3,79.4 149.4,76.7 148.5,73.9"/>
<polygon fill="#440154" points="163.6,65.7 165.5,64.8 167.3,63.8 169.1,64.8 169.6,66.1 168.2,67.5 167.3,69.3 165.5,68.4 164.1,67.0"/>
<polygon fill="#440154" points="172.3,61.5 175.5,61.5 175.5,64.8 174.6,66.1 173.2,65.2 172.5,63.4"/>
<polygon fill="#440154" points="179.2,61.5 180.8,61.5 180.8,63.8 179.2,63.8"/>
<polygon fill="#440154" points="172.8,73.5 174.2,73.0 175.5,74.8 176.5,77.1 176.0,79.0 174.2,79.9 172.5,79.0 172.2,76.7"/>
<polygon fill="#440154" points="168.7,81.7 170.5,80.8 171.4,81.7 169.6,83.5 167.8,85.4 165.9,87.7 164.5,89.5 163.6,91.3 162.7,90.9 163.6,88.6 165.5,86.3 167.0,84.0"/>
<polygon fill="#440154" points="168.7,93.6 170.5,91.3 172.8,89.5 174.6,87.7 176.5,85.4 178.3,84.0 181.5,84.5 183.8,85.8 184.2,88.6 186.5,89.5 187.0,92.2 186.5,95.0 185.6,97.3 186.1,99.6 187.9,101.0 190.2,102.3 191.1,104.2 193.0,103.7 194.3,102.3 197.1,101.4 198.9,100.5 200.3,98.7 199.8,96.4 201.2,95.5 202.6,97.3 203.5,99.6 204.2,102.3 204.2,106.9 184.2,106.9 182.4,103.7 180.6,101.4 179.2,98.7 177.8,96.8 176.0,96.4 174.6,97.8 173.2,99.6 171.9,101.4 170.5,102.8 168.7,102.3 167.9,100.0 167.8,96.8"/>
<polygon fill="#440154" points="184.2,67.5 186.5,65.2 188.8,63.4 190.7,61.5 198.0,61.5 198.9,63.8 201.7,62.9 203.5,61.5 206.2,61.5 206.7,64.8 206.2,67.5 204.4,68.0 201.7,67.0 198.9,66.6 196.2,67.0 193.9,67.5 190.7,68.0 187.9,68.9 185.2,69.3"/>
<polygon fill="#440154" points="193.0,73.0 194.8,71.2 197.1,70.2 199.4,71.2 201.7,72.1 202.6,73.5 200.8,73.9 198.5,74.4 197.1,75.8 195.2,77.1 193.4,76.7"/>
<polygon fill="#440154" points="181.5,79.9 183.8,79.4 185.2,81.2 187.9,81.7 190.7,80.8 193.0,79.9 193.4,81.7 193.0,84.0 191.6,85.8 189.8,86.8 188.4,85.4 186.1,84.9 184.2,84.5 183.3,82.6"/>
<polygon fill="#440154" points="210.8,82.2 208.5,84.0 206.2,85.8 204.0,88.1 201.7,90.4 199.4,92.7 197.1,94.5 195.1,95.9 195.7,93.6 198.0,91.3 200.3,89.0 202.6,86.3 204.9,84.5 207.2,82.6 209.0,81.2 210.8,80.3"/>
<polygon fill="#440154" points="197.1,79.9 198.9,79.9 199.1,82.2 197.3,82.3"/>
<polygon fill="#440154" points="198.5,84.0 200.8,83.5 200.3,86.3 198.9,87.7 198.0,86.8"/>
<polygon fill="#440154" points="201.7,75.8 203.5,74.8 203.7,75.9 202.1,76.7"/>
<polygon fill="#440154" points="187.9,75.8 189.0,75.8 189.0,76.8 187.9,76.8"/>
<polygon fill="#440154" points="206.2,80.8 207.6,80.8 207.6,82.3 206.2,82.3"/>
<polygon fill="#440154" points="149.9,91.3 151.7,91.8 152.6,93.6 151.2,94.5 150.2,93.2"/>
<polygon fill="#440154" points="150.8,98.2 152.6,97.3 153.5,98.2 152.2,99.6 152.2,101.4 154.0,102.3 154.9,103.2 153.1,103.7 151.2,102.3 150.5,100.0"/>
<polygon fill="#440154" points="142.5,98.2 144.8,98.7 146.7,100.5 147.1,102.8 145.3,102.3 142.5,101.4"/>
<polygon fill="#440154" points="158.1,100.5 160.0,100.0 160.2,103.2 158.8,104.6 158.1,102.8"/>
<polygon fill="#440154" points="162.7,101.0 164.8,100.5 165.2,103.2 164.5,105.1 163.2,104.6"/>
<polygon fill="#440154" points="156.8,97.8 157.8,97.8 157.8,98.8 156.8,98.8"/>
<polygon fill="#440154" points="208.5,61.5 210.8,61.5 210.8,63.8 208.8,64.0"/>
<polygon fill="#440154" points="208.3,103.2 210.8,102.8 210.8,106.9 208.3,106.9"/>
</g>
<clipPath id="c0s186_80"><rect x="186" y="80" width="50" height="50"/></clipPath>
<g clip-path="url(#c0s186_80)">
<polygon fill="#FDE725" points="185.5,79.5 266.7,79.5 266.7,131.0 185.5,131.0"/>
<polygon fill="#440154" points="237.0,88.9 237.0,131.0 227.1,131.0 226.1,125.8 225.1,121.7 226.1,118.5 225.6,115.4 224.0,112.3 221.9,114.4 220.4,114.4 219.3,111.2 217.8,108.1 216.2,106.0 217.2,104.5 219.3,103.4 221.4,101.4 224.0,99.3 226.6,97.2 228.7,95.1 231.0,93.0 232.4,95.1 233.4,97.5 235.0,97.2 234.8,93.5 233.1,91.2 236.0,88.9"/>
<polygon fill="#440154" points="185.5,100.8 188.1,101.4 190.7,104.5 193.3,103.4 194.9,100.8 196.9,100.3 199.5,100.3 200.6,98.2 199.5,95.6 201.1,94.6 203.2,96.7 204.2,100.3 204.8,104.0 204.5,107.1 203.2,109.7 201.6,111.2 200.6,114.4 198.5,114.4 198.0,111.2 198.5,109.2 196.4,109.7 193.8,111.2 191.2,113.3 190.2,116.5 189.1,120.6 190.7,123.8 190.2,125.8 185.5,125.8"/>
<polygon fill="#440154" points="208.4,103.4 210.5,104.0 212.0,106.0 213.9,107.6 215.7,109.7 216.2,113.3 215.2,115.4 211.5,115.4 208.4,114.4 207.4,112.3 207.9,108.1"/>
<polygon fill="#440154" points="199.1,95.2 197.9,93.3 199.5,90.9 201.2,88.9 203.3,87.3 204.9,85.7 206.4,84.2 208.1,83.1 211.0,82.6 212.0,84.4 210.0,86.2 207.9,88.3 206.3,90.4 204.8,91.5 203.2,93.0 202.1,95.1"/>
<polygon fill="#440154" points="194.3,95.1 196.4,94.6 198.5,93.0 199.0,94.6 196.9,96.1 194.9,96.1"/>
<polygon fill="#440154" points="185.5,82.1 188.6,81.0 191.2,81.6 193.3,80.5 194.3,82.1 193.8,84.2 191.2,84.7 189.1,85.7 185.5,85.2"/>
<polygon fill="#440154" points="196.4,79.5 199.5,79.5 199.0,82.1 196.9,82.3"/>
<polygon fill="#440154" points="185.5,89.9 187.6,90.4 187.6,96.1 185.5,96.7"/>
<polygon fill="#440154" points="206.3,81.0 207.9,81.6 207.4,83.6 206.0,83.1"/>
<polygon fill="#440154" points="200.1,83.6 201.6,84.2 200.6,86.2 199.0,88.3 198.0,87.8 199.0,85.7"/>
<polygon fill="#440154" points="219.9,92.0 223.0,92.0 223.0,94.6 219.9,94.6"/>
<polygon fill="#440154" points="208.4,121.1 211.0,120.6 211.0,123.2 208.9,123.8"/>
<polygon fill="#440154" points="200.6,123.2 202.7,122.7 202.7,125.8 201.1,127.4 200.1,125.8"/>
<polygon fill="#440154" points="216.2,122.2 218.8,121.7 219.3,123.8 217.8,125.8 215.7,125.3"/>
<polygon fill="#440154" points="214.1,127.7 216.2,127.7 216.2,131.0 214.1,131.0"/>
<polygon fill="#440154" points="220.4,127.4 222.5,126.9 223.0,128.4 220.9,129.0"/>
<polygon fill="#440154" points="215.7,118.0 217.2,118.0 217.2,119.6 215.7,119.6"/>
<polygon fill="#440154" points="196.4,119.1 197.7,119.1 197.7,120.4 196.4,120.4"/>
</g>
</g>
<path d="M71.5,41.0H75 M71.5,63.8H75 M71.5,86.6H75 M71.5,109.4H75 M71.5,132.2H75 M71.5,155.0H75 M71.5,177.8H75 M71.5,200.6H75 M115.5,216V221 M161.0,216V221 M206.5,216V221 M252.0,216V221" stroke="#b0b0b0" stroke-width="1" fill="none"/>
<rect x="75.5" y="39.9" width="201.2" height="176.2" fill="none" stroke="#000" stroke-width="1"/>
<text class="a" transform="translate(115.8,233) scale(0.9,1)">7e+05</text>
<text class="a" transform="translate(161.3,233) scale(0.9,1)">720000</text>
<text class="a" transform="translate(206.8,233) scale(0.9,1)">740000</text>
<text class="a" transform="translate(252.3,233) scale(0.9,1)">760000</text>
<text class="a" transform="translate(67.4,63.6) rotate(-90) scale(0.885,1)">12630000</text>
<text class="a" transform="translate(67.4,132.1) rotate(-90) scale(0.885,1)">12600000</text>
<text class="a" transform="translate(67.4,200.5) rotate(-90) scale(0.885,1)">12570000</text>
<rect x="286.3" y="49.5" width="8" height="6" fill="#440154" stroke="#000"/>
<rect x="286.3" y="62.4" width="8" height="6" fill="#FDE725" stroke="#000"/>
<text class="l" x="303.8" y="56">0</text>
<text class="l" x="303.8" y="69">1</text>
</g>
<g transform="translate(384,0)">
<text class="t" x="176" y="31.8">Fire</text>
<rect x="76" y="40" width="200.6" height="176.2" fill="#440154"/>
<clipPath id="c1"><rect x="76" y="40" width="200.6" height="176.2"/></clipPath>
<g clip-path="url(#c1)" shape-rendering="crispEdges">
<polygon fill="#FDE725" points="98.8,79.9 102.8,79.9 102.8,82.8 102.0,82.8 102.0,81.0 98.8,81.0"/>
<polygon fill="#FDE725" points="103.7,79.1 106.2,79.1 106.6,79.9 107.8,79.9 107.8,82.4 109.1,82.8 109.1,84.1 107.8,84.5 107.8,87.0 107.0,87.4 104.1,87.0 104.1,85.8 103.0,85.3 103.0,83.7 103.7,83.2"/>
<polygon fill="#FDE725" points="107.0,87.0 107.8,88.2 108.7,89.1 109.9,90.3 111.2,91.2 110.8,92.2 109.1,91.8 108.0,90.3 107.2,89.1 106.6,87.4"/>
<polygon fill="#FDE725" points="138.8,71.6 139.9,70.3 141.2,68.8 142.0,68.8 142.4,69.9 144.1,69.9 144.1,71.0 143.0,71.8 140.3,72.2 139.1,72.2"/>
<polygon fill="#FDE725" points="211.8,63.9 213.1,63.9 213.1,65.0 211.8,65.0"/>
<polygon fill="#FDE725" points="210.8,65.8 212.1,65.8 212.1,67.0 210.8,67.0"/>
<polygon fill="#FDE725" points="227.9,86.8 231.0,86.8 231.0,88.1 227.9,88.1"/>
<polygon fill="#FDE725" points="211.0,147.9 212.2,147.9 212.2,151.0 213.2,151.0 213.2,147.9 215.1,147.9 215.1,150.6 216.0,151.0 216.0,152.2 214.3,153.2 213.8,154.8 212.4,155.2 211.5,156.0 211.0,158.1 210.4,159.0 209.2,158.1 208.9,155.2 209.2,152.9 209.8,152.0 211.0,151.5"/>
<polygon fill="#FDE725" points="212.0,156.9 213.1,156.9 213.1,158.1 212.0,158.1"/>
<polygon fill="#FDE725" points="262.1,162.3 262.9,160.9 264.9,159.9 267.8,160.1 269.6,161.3 270.4,163.7 271.0,165.1 270.8,167.9 271.0,169.8 270.1,171.7 268.7,173.1 266.8,174.0 264.9,172.6 263.5,170.7 262.9,168.4 262.1,166.5 262.3,164.2"/>
<polygon fill="#FDE725" points="266.8,173.8 268.7,174.5 270.1,173.2 271.0,173.1 270.8,174.2 269.2,175.7 268.2,176.8 267.8,178.2 266.6,178.5 265.4,179.4 264.5,178.7 264.0,177.8 263.1,177.3 264.5,176.6 265.9,175.9"/>
<polygon fill="#FDE725" points="267.0,178.9 268.1,178.9 268.1,180.0 267.0,180.0"/>
<polygon fill="#FDE725" points="125.1,181.4 127.0,180.4 127.5,178.8 129.3,177.8 131.2,178.4 132.6,180.0 134.5,179.3 135.4,177.8 136.2,178.6 136.6,181.4 137.8,183.2 137.8,186.1 136.6,187.5 138.7,188.9 139.2,191.7 139.7,195.0 141.1,197.8 142.9,201.1 144.8,204.3 147.2,208.1 149.0,211.4 150.4,213.2 150.4,216.5 133.1,216.5 132.2,213.2 130.3,212.8 131.2,210.4 133.1,208.1 131.2,207.2 131.2,204.8 131.2,202.5 133.6,202.0 132.2,200.1 132.2,198.2 134.0,196.8 135.0,195.0 133.1,193.1 131.7,190.8 130.3,188.4 128.9,186.1 127.5,184.2 126.1,182.8"/>
</g>
<path d="M71.5,41.0H75 M71.5,63.8H75 M71.5,86.6H75 M71.5,109.4H75 M71.5,132.2H75 M71.5,155.0H75 M71.5,177.8H75 M71.5,200.6H75 M115.5,216V221 M161.0,216V221 M206.5,216V221 M252.0,216V221" stroke="#b0b0b0" stroke-width="1" fill="none"/>
<rect x="75.5" y="39.9" width="201.2" height="176.2" fill="none" stroke="#000" stroke-width="1"/>
<text class="a" transform="translate(115.8,233) scale(0.9,1)">7e+05</text>
<text class="a" transform="translate(161.3,233) scale(0.9,1)">720000</text>
<text class="a" transform="translate(206.8,233) scale(0.9,1)">740000</text>
<text class="a" transform="translate(252.3,233) scale(0.9,1)">760000</text>
<text class="a" transform="translate(67.4,63.6) rotate(-90) scale(0.885,1)">12630000</text>
<text class="a" transform="translate(67.4,132.1) rotate(-90) scale(0.885,1)">12600000</text>
<text class="a" transform="translate(67.4,200.5) rotate(-90) scale(0.885,1)">12570000</text>
<rect x="286.3" y="49.5" width="8" height="6" fill="#440154" stroke="#000"/>
<rect x="286.3" y="62.4" width="8" height="6" fill="#FDE725" stroke="#000"/>
<text class="l" x="303.8" y="56">0</text>
<text class="l" x="303.8" y="69">1</text>
</g>
<g transform="translate(0,240)">
<text class="t" x="176" y="31.8" textLength="72.3" lengthAdjust="spacingAndGlyphs">Total_dist</text>
<rect x="77" y="41" width="199.3" height="174" fill="#440154"/>
<clipPath id="c2"><rect x="77" y="41" width="199.3" height="174"/></clipPath>
<g clip-path="url(#c2)" shape-rendering="crispEdges">
<clipPath id="c2t00"><rect x="76" y="40" width="67" height="44"/></clipPath>
<g clip-path="url(#c2t00)">
<polygon fill="#FDE725" points="76.9,40.9 100.0,40.9 100.0,42.6 98.5,44.1 98.5,46.2 100.3,48.1 98.5,49.2 97.3,50.3 96.3,52.4 94.8,53.8 93.4,52.4 92.3,50.5 90.7,48.7 88.8,47.8 86.8,49.2 84.4,50.8 82.9,49.2 82.6,48.1 80.1,47.5 78.8,45.5 77.7,43.7 76.9,42.8"/>
<polygon fill="#440154" points="89.6,42.6 92.5,42.6 92.5,44.1 89.6,44.1"/>
<polygon fill="#440154" points="91.1,47.3 95.7,47.3 94.8,49.2 93.4,50.1 92.0,48.7"/>
<polygon fill="#FDE725" points="98.5,46.2 100.3,47.8 102.6,49.2 105.3,50.8 108.5,52.8 111.8,54.7 114.5,56.3 112.7,57.9 109.9,56.5 107.2,54.7 104.4,52.8 101.7,51.2 99.4,49.6 98.0,48.7"/>
<polygon fill="#FDE725" points="107.6,58.8 110.4,57.4 112.7,57.0 115.0,56.5 117.7,57.9 120.5,59.2 123.7,60.9 126.0,62.5 124.6,64.0 123.2,65.7 123.7,67.0 126.0,67.5 128.7,68.9 130.5,70.7 131.0,73.0 132.4,74.4 133.8,76.2 133.8,79.4 132.8,80.8 131.9,84.0 123.7,84.0 123.7,81.2 122.3,79.4 120.9,77.6 120.0,75.3 120.0,72.5 117.7,71.6 114.5,70.2 112.2,68.9 109.9,67.5 107.6,66.6 106.2,64.8 106.1,62.0 106.7,59.7"/>
<polygon fill="#440154" points="113.1,58.8 115.0,58.8 115.0,60.0 113.1,60.0"/>
<polygon fill="#440154" points="120.0,62.0 122.3,62.0 122.3,63.4 120.0,63.4"/>
<polygon fill="#FDE725" points="123.2,61.5 127.3,62.0 133.8,62.0 134.7,64.0 131.0,64.0 127.3,64.3 124.6,64.0"/>
<polygon fill="#FDE725" points="115.2,46.4 116.3,44.6 118.2,43.2 120.0,41.6 126.9,41.1 126.9,42.3 125.0,43.7 122.8,44.6 121.4,46.4 120.0,47.8 116.3,47.8"/>
<polygon fill="#FDE725" points="126.0,57.9 128.1,57.9 128.1,60.0 126.0,60.0"/>
<polygon fill="#FDE725" points="130.1,40.9 139.2,40.9 138.3,42.3 137.0,44.1 135.6,42.8 132.8,42.3 131.0,41.8"/>
<polygon fill="#FDE725" points="141.5,42.3 143.0,41.8 143.0,45.5 142.0,45.3 141.3,44.1"/>
<polygon fill="#FDE725" points="133.3,58.3 134.7,56.5 139.2,55.4 143.8,54.7 143.8,70.2 141.5,69.3 140.2,67.5 139.2,65.7 137.4,64.3 134.7,64.0 133.3,62.0 134.7,59.7"/>
<polygon fill="#440154" points="139.2,61.1 141.1,60.2 143.8,60.6 143.8,66.6 141.5,65.7 140.2,64.3 139.2,62.9"/>
<polygon fill="#FDE725" points="143.8,67.5 143.8,71.2 139.2,71.6 136.5,72.1 135.1,73.5 134.2,76.2 132.4,74.4 133.3,72.1 135.1,70.7 138.3,69.5 140.6,68.4"/>
<polygon fill="#FDE725" points="136.5,84.0 138.3,81.7 140.2,80.3 141.3,80.3 141.5,82.2 143.8,82.6 143.8,84.9 136.5,84.9"/>
</g>
<clipPath id="c2t10"><rect x="143" y="40" width="67" height="44"/></clipPath>
<g clip-path="url(#c2t10)">
<polygon fill="#FDE725" points="142.5,39.5 210.8,39.5 210.8,84.9 142.5,84.9"/>
<polygon fill="#440154" points="143.0,44.6 144.8,44.1 147.1,45.0 148.0,47.3 147.6,50.1 146.7,52.4 144.8,54.2 143.0,54.7"/>
<polygon fill="#440154" points="150.8,44.6 153.1,44.1 154.5,46.4 154.9,49.2 155.4,52.8 153.5,53.8 151.7,52.4 151.1,49.6 150.3,47.3"/>
<polygon fill="#440154" points="156.8,46.4 159.0,46.9 160.9,49.2 161.3,51.5 159.5,52.4 158.1,50.5 156.8,48.7"/>
<polygon fill="#440154" points="164.5,46.4 166.4,44.6 169.6,44.1 169.6,46.0 168.2,47.8 168.7,50.1 170.0,51.9 169.6,54.7 168.7,57.0 167.3,56.0 166.4,54.2 164.5,53.8 165.0,51.9 166.4,50.1 165.9,48.2"/>
<polygon fill="#440154" points="176.5,40.0 190.7,40.0 190.7,42.3 187.0,42.8 184.2,43.7 181.5,43.2 179.2,44.6 177.4,43.7"/>
<polygon fill="#440154" points="172.3,49.6 174.6,49.2 176.5,50.5 177.4,52.4 179.2,53.8 180.6,55.6 179.7,57.9 178.3,58.3 176.9,56.5 175.1,54.7 173.7,52.8 172.8,51.5"/>
<polygon fill="#440154" points="187.5,46.0 188.8,46.9 187.9,48.7 186.1,50.5 184.2,52.8 182.4,55.1 181.0,56.5 180.4,55.1 182.0,53.3 183.8,51.0 185.6,48.7"/>
<polygon fill="#440154" points="193.0,44.1 195.7,43.7 197.1,45.5 196.6,48.2 195.2,50.1 193.9,51.0 193.0,52.4 192.0,51.9 193.0,49.2 193.2,46.9"/>
<polygon fill="#440154" points="143.0,58.3 145.8,57.4 148.5,56.0 151.7,55.6 154.9,57.9 158.1,57.4 160.4,58.8 160.9,61.5 159.5,62.9 156.8,63.4 154.0,64.8 151.2,65.2 148.5,66.1 145.8,67.0 143.0,68.0"/>
<polygon fill="#440154" points="147.1,69.3 149.4,68.0 153.1,67.0 156.8,66.6 160.4,67.5 162.7,69.3 162.2,71.6 160.9,73.5 160.0,76.2 160.4,78.5 162.7,76.7 165.0,75.8 167.8,76.2 169.6,78.0 167.8,80.3 165.9,82.2 164.1,84.9 150.8,84.9 150.3,81.2 149.4,78.5 148.5,75.8 148.0,72.5"/>
<polygon fill="#440154" points="143.0,73.0 144.4,73.5 145.8,76.7 146.7,80.3 147.1,84.9 143.0,84.9"/>
<polygon fill="#440154" points="163.6,65.7 165.9,64.3 169.1,64.0 169.6,65.7 168.2,67.5 167.3,69.8 165.9,68.4 164.5,67.5"/>
<polygon fill="#440154" points="171.0,59.2 173.2,58.3 174.6,60.6 175.5,62.9 176.0,65.7 174.6,66.6 173.2,64.8 171.9,62.5"/>
<polygon fill="#440154" points="182.0,59.7 183.2,60.2 182.0,62.0 180.1,64.0 179.2,63.4 180.6,61.5"/>
<polygon fill="#440154" points="186.1,61.1 187.9,59.2 189.8,57.4 191.6,55.1 193.0,54.7 193.4,57.0 194.3,58.8 195.2,61.1 197.1,62.0 198.0,63.4 200.3,62.5 202.1,60.6 204.0,60.2 205.3,62.9 206.2,66.6 206.7,69.3 204.4,69.8 201.7,68.4 198.9,67.5 196.2,68.0 193.4,68.4 190.7,68.9 187.5,69.3 184.2,69.8 184.2,67.0 186.1,65.7 187.9,64.3 187.0,62.5"/>
<polygon fill="#440154" points="197.1,58.3 198.9,57.9 199.1,60.6 198.0,62.5 196.9,61.1"/>
<polygon fill="#440154" points="208.5,53.8 210.8,53.8 210.8,63.8 208.5,63.4 208.1,58.3"/>
<polygon fill="#440154" points="193.0,73.0 195.2,70.7 198.0,70.7 199.4,71.6 202.6,72.1 201.7,73.5 198.9,73.9 197.5,75.3 195.7,76.7 193.9,77.6 192.5,76.7"/>
<polygon fill="#440154" points="172.3,75.8 173.7,73.0 175.1,74.4 176.5,77.1 175.5,79.4 173.7,79.9 172.2,78.5"/>
<polygon fill="#440154" points="181.5,80.3 184.2,79.0 185.2,80.8 187.9,81.7 190.7,80.3 193.0,79.4 194.3,81.2 193.9,84.9 182.4,84.9"/>
<polygon fill="#440154" points="197.1,80.3 199.4,79.9 199.8,82.2 198.0,83.1 196.9,82.2"/>
<polygon fill="#440154" points="207.2,81.2 208.5,80.8 209.0,84.9 207.2,84.9"/>
<polygon fill="#440154" points="187.9,75.8 189.3,75.8 189.3,77.1 187.9,77.1"/>
<polygon fill="#440154" points="163.6,57.4 165.0,57.4 165.0,58.8 163.6,58.8"/>
<polygon fill="#440154" points="159.0,41.8 160.9,41.8 160.0,43.7 158.6,44.1"/>
<polygon fill="#440154" points="208.1,42.8 210.8,42.8 210.8,44.6 208.5,44.4"/>
<polygon fill="#440154" points="201.7,74.8 204.0,74.4 203.5,75.8 201.7,76.2"/>
<polygon fill="#440154" points="168.7,81.2 171.4,80.3 170.5,82.6 169.1,84.9 167.3,84.9"/>
</g>
<clipPath id="c2t20"><rect x="210" y="40" width="67" height="44"/></clipPath>
<g clip-path="url(#c2t20)">
<polygon fill="#FDE725" points="209.5,40.0 242.1,40.0 244.4,42.8 245.3,45.0 244.8,47.3 247.6,46.9 249.9,48.2 249.4,50.1 247.6,51.5 245.8,53.3 243.0,54.7 240.7,56.0 240.2,57.9 238.4,59.7 237.7,60.3 235.9,61.7 233.7,62.5 231.9,62.0 230.7,62.8 227.5,63.7 226.7,65.5 224.8,67.8 222.8,69.0 221.4,67.0 220.5,68.1 219.1,70.2 219.2,73.0 209.5,73.0"/>
<polygon fill="#440154" points="209.5,53.8 210.0,53.6 211.5,51.5 213.6,50.1 215.6,50.6 216.7,53.3 216.1,54.7 214.4,55.6 212.9,56.8 212.1,58.2 211.7,60.3 211.5,62.5 210.4,63.5 209.2,63.5 209.2,59.7 209.4,57.4"/>
<polygon fill="#440154" points="219.3,55.0 220.5,55.9 221.7,57.6 223.1,57.3 224.6,56.1 224.8,59.1 223.5,60.3 222.0,62.0 220.5,63.7 218.8,65.5 217.3,67.2 215.6,68.7 215.3,71.3 215.9,72.5 213.8,72.5 212.1,71.3 210.4,70.7 210.4,69.0 211.5,67.2 212.9,65.5 213.8,64.3 214.9,63.2 215.3,59.6 216.7,57.9 218.2,56.1"/>
<polygon fill="#440154" points="221.5,42.3 223.8,41.8 223.3,43.7 221.5,44.1"/>
<polygon fill="#440154" points="232.7,43.7 234.0,43.7 234.0,45.0 232.7,45.0"/>
<polygon fill="#440154" points="219.9,51.7 221.2,51.7 221.2,53.0 219.9,53.0"/>
<polygon fill="#FDE725" points="209.5,71.6 219.2,72.5 220.5,72.7 223.8,71.9 226.0,71.3 228.1,70.4 229.5,69.2 231.3,68.7 234.8,68.4 236.6,67.0 238.3,66.0 240.0,65.5 241.2,65.2 246.7,66.1 250.3,67.0 253.1,67.5 253.5,70.2 253.1,73.0 251.2,75.3 249.4,76.7 247.6,78.5 245.8,80.8 243.9,82.6 242.1,84.9 209.5,84.9"/>
<polygon fill="#440154" points="212.8,76.2 215.0,76.2 215.0,80.8 212.8,80.8"/>
<polygon fill="#440154" points="230.9,73.7 232.2,73.7 232.2,75.0 230.9,75.0"/>
<polygon fill="#FDE725" points="252.6,67.5 254.9,68.6 257.7,70.7 260.4,72.8 260.0,74.8 257.2,73.0 254.9,71.2 252.9,69.5"/>
<polygon fill="#FDE725" points="260.0,73.0 265.0,73.9 273.2,73.0 277.8,72.1 277.8,74.4 273.7,75.3 265.0,75.9 260.4,75.3"/>
<polygon fill="#FDE725" points="257.7,72.5 260.2,73.0 260.4,76.7 260.9,80.3 261.3,84.9 257.7,84.9 257.7,80.3 257.5,76.7"/>
<polygon fill="#FDE725" points="273.2,74.8 274.6,75.3 273.2,78.5 271.9,81.2 270.5,84.9 268.7,84.9 270.0,81.2 271.6,78.0"/>
<polygon fill="#FDE725" points="259.0,46.4 260.4,44.6 264.1,43.2 265.9,44.1 268.7,45.0 271.0,44.1 274.2,45.5 277.8,46.4 277.8,59.7 274.2,59.2 272.8,57.0 270.5,56.0 268.7,54.7 266.8,52.8 265.0,51.5 262.2,50.5 260.0,49.2"/>
<polygon fill="#FDE725" points="254.9,56.5 256.3,56.5 257.7,58.3 259.0,60.6 258.6,63.4 255.8,64.0 253.5,63.4 253.1,61.5 254.0,59.7 254.5,57.9"/>
<polygon fill="#440154" points="255.8,58.8 257.3,58.8 257.3,60.4 255.8,60.4"/>
</g>
<clipPath id="c2t01"><rect x="76" y="84" width="67" height="44"/></clipPath>
<g clip-path="url(#c2t01)">
<polygon fill="#FDE725" points="123.7,83.5 126.0,83.5 126.0,84.9 123.7,84.9"/>
<polygon fill="#FDE725" points="131.0,83.5 143.8,83.5 143.8,125.2 141.5,124.3 140.2,125.4 138.8,126.0 137.4,124.3 136.0,122.5 135.1,120.2 133.8,118.4 131.5,119.6 129.2,119.9 126.9,118.7 126.0,116.1 124.1,114.2 122.3,112.0 120.5,110.6 120.0,108.6 121.8,108.0 123.2,109.8 124.6,111.0 126.0,108.6 127.3,109.8 128.7,107.8 130.1,106.5 130.3,103.7 129.6,101.0 129.2,99.1 127.3,97.3 127.3,95.7 129.6,94.8 131.0,92.7 133.3,91.8 134.7,90.2 133.3,88.6 132.1,86.8 131.2,85.1"/>
<polygon fill="#440154" points="131.9,97.8 133.8,96.8 136.0,96.4 137.4,97.8 139.2,99.1 139.7,100.5 137.4,101.0 136.0,101.9 134.7,103.7 134.2,105.5 132.8,104.6 132.1,102.3 131.9,100.0"/>
<polygon fill="#FDE725" points="133.9,100.0 136.0,99.6 136.5,101.4 134.7,102.3"/>
<polygon fill="#440154" points="136.0,109.2 138.8,109.2 138.8,111.0 136.0,111.0"/>
<polygon fill="#440154" points="130.1,113.3 131.9,113.8 132.8,115.6 131.0,117.0 129.9,115.6"/>
<polygon fill="#440154" points="137.4,112.4 139.2,112.0 139.2,114.7 137.6,114.7"/>
<polygon fill="#440154" points="134.7,85.4 135.8,85.4 135.8,86.8 134.7,86.8"/>
<polygon fill="#440154" points="141.5,91.8 143.8,91.8 143.8,93.2 141.5,93.2"/>
<polygon fill="#440154" points="140.2,107.4 142.5,107.4 143.8,108.8 140.6,108.6"/>
<polygon fill="#440154" points="139.2,117.0 140.3,117.0 140.3,118.1 139.2,118.1"/>
<polygon fill="#440154" points="133.6,112.0 135.1,111.5 135.1,113.2 133.8,113.3"/>
</g>
<clipPath id="c2t11"><rect x="143" y="84" width="67" height="44"/></clipPath>
<g clip-path="url(#c2t11)">
<polygon fill="#FDE725" points="142.5,83.5 210.8,83.5 210.8,128.9 142.5,128.9"/>
<polygon fill="#440154" points="176.9,83.5 184.2,83.5 184.2,86.3 185.6,87.7 187.0,89.5 187.5,92.2 186.5,95.0 185.6,97.8 185.2,100.0 187.0,101.4 189.3,102.3 190.7,104.2 193.0,103.7 195.2,101.9 198.0,101.0 200.3,99.1 199.8,96.8 198.9,95.0 200.8,94.1 202.6,95.9 204.0,98.7 204.6,101.4 204.4,105.1 203.0,107.4 201.7,108.8 202.1,111.0 201.2,113.3 199.4,114.7 197.5,114.2 197.1,112.0 198.0,109.7 195.7,110.1 193.4,111.5 191.1,112.9 190.2,115.6 189.3,118.4 188.8,121.1 189.8,123.4 191.1,125.2 189.8,126.2 187.0,125.7 184.2,126.6 181.5,125.7 179.2,124.3 177.4,123.0 175.5,121.6 173.7,123.4 171.4,124.8 168.7,125.2 165.5,125.7 166.4,123.4 168.2,121.6 169.6,119.3 169.1,117.5 166.8,116.5 163.6,116.1 160.9,115.6 159.0,114.2 159.5,112.9 161.8,112.0 164.1,110.6 166.4,109.2 167.8,107.7 170.5,108.0 174.2,108.6 177.8,108.0 180.6,107.4 182.4,105.5 182.6,103.2 181.5,101.4 180.1,99.6 178.8,98.7 178.8,96.4 177.4,95.0 175.5,95.9 173.7,97.8 172.3,100.0 171.4,102.3 170.0,103.7 168.7,102.8 167.8,101.0 167.6,98.7 168.2,96.4 167.8,94.1 169.1,92.2 171.4,90.9 174.2,89.0 176.0,86.8"/>
<polygon fill="#FDE725" points="175.1,101.0 176.2,101.0 176.2,102.0 175.1,102.0"/>
<polygon fill="#440154" points="142.5,83.5 147.6,83.5 147.6,85.8 145.8,86.8 143.9,88.1 142.5,88.6"/>
<polygon fill="#440154" points="153.1,83.5 161.3,83.5 161.8,85.8 160.9,88.6 161.3,90.4 160.0,91.3 158.6,89.5 158.1,87.7 156.3,88.1 154.5,86.8 153.5,85.4"/>
<polygon fill="#440154" points="150.3,91.3 152.2,91.8 153.1,93.6 151.7,95.0 150.3,94.1"/>
<polygon fill="#440154" points="142.5,99.6 144.8,99.1 146.7,101.0 147.1,103.2 145.3,102.8 142.5,101.4"/>
<polygon fill="#440154" points="150.8,98.7 152.6,97.8 154.0,97.3 153.5,99.1 152.2,100.5 151.7,101.9 153.1,102.8 154.9,103.2 154.5,104.3 152.2,103.7 150.8,102.3 150.2,100.5"/>
<polygon fill="#440154" points="158.1,101.4 160.0,101.0 160.4,103.7 159.5,105.1 158.1,104.2"/>
<polygon fill="#440154" points="162.7,101.9 165.0,101.4 165.5,103.7 164.5,105.1 163.2,104.6"/>
<polygon fill="#440154" points="148.3,112.4 150.8,112.0 151.2,113.8 149.9,115.2 148.3,114.2"/>
<polygon fill="#440154" points="142.5,120.7 145.8,120.2 147.1,122.0 146.7,124.3 144.8,123.4 142.5,123.9"/>
<polygon fill="#440154" points="146.2,125.2 148.0,124.8 148.0,128.9 146.2,128.9"/>
<polygon fill="#440154" points="207.2,83.5 210.8,83.5 210.8,85.8 207.6,86.3"/>
<polygon fill="#440154" points="208.1,103.7 210.8,103.2 210.8,114.7 208.5,114.2 207.6,111.5 207.9,106.9"/>
<polygon fill="#440154" points="208.1,121.1 210.8,120.7 210.8,123.9 208.3,123.9"/>
<polygon fill="#440154" points="200.8,123.4 202.6,123.0 203.0,125.2 201.7,128.9 200.3,128.9 200.6,125.7"/>
<polygon fill="#440154" points="156.8,97.8 157.8,97.8 157.8,98.8 156.8,98.8"/>
<polygon fill="#440154" points="154.0,106.9 155.1,106.9 155.1,108.0 154.0,108.0"/>
<polygon fill="#440154" points="155.4,110.6 156.8,110.6 156.8,112.0 155.4,112.0"/>
<polygon fill="#440154" points="154.0,115.6 155.1,115.6 155.1,116.8 154.0,116.8"/>
<polygon fill="#440154" points="156.8,119.8 158.1,119.8 158.1,121.1 156.8,121.1"/>
<polygon fill="#440154" points="197.1,120.2 198.2,120.2 198.2,121.4 197.1,121.4"/>
<polygon fill="#440154" points="142.5,105.1 144.1,105.1 144.1,106.9 142.5,106.9"/>
<polygon fill="#440154" points="198.9,91.3 200.3,90.4 201.2,91.8 199.4,93.6 197.1,95.5 194.8,96.4 194.3,95.5 196.6,93.6"/>
</g>
<clipPath id="c2t21"><rect x="210" y="84" width="67" height="44"/></clipPath>
<g clip-path="url(#c2t21)">
<polygon fill="#FDE725" points="209.5,83.5 241.2,83.5 240.2,85.8 238.4,88.1 236.6,90.0 234.3,90.9 232.9,92.2 234.3,94.1 234.9,95.9 233.7,97.8 232.0,96.4 230.9,94.1 229.7,94.5 227.9,96.4 225.6,98.2 223.3,100.0 221.0,101.4 220.5,103.2 218.2,104.6 216.4,105.5 215.0,104.6 213.7,102.8 211.8,103.7 209.5,104.6"/>
<polygon fill="#440154" points="220.1,92.2 222.8,92.1 223.0,94.5 220.5,95.0"/>
<polygon fill="#FDE725" points="211.8,103.7 213.7,102.8 215.5,104.6 217.3,106.5 219.2,108.3 219.9,110.6 219.2,112.4 221.0,114.2 223.3,112.0 224.7,113.3 225.1,115.6 227.0,116.1 225.6,117.5 224.7,119.3 226.0,121.1 227.0,123.4 226.5,125.7 227.0,128.9 209.5,128.9 209.5,115.2 212.3,115.6 214.6,114.7 216.0,112.4 216.4,109.7 215.5,107.4 213.7,106.0 212.3,104.6"/>
<polygon fill="#440154" points="215.0,118.4 216.9,117.9 216.4,119.8 215.0,120.2"/>
<polygon fill="#440154" points="216.4,122.5 219.2,122.0 219.6,123.9 217.3,125.2 215.5,126.6 215.0,125.2"/>
<polygon fill="#440154" points="209.5,121.1 210.9,121.1 210.9,123.0 209.5,123.0"/>
<polygon fill="#440154" points="221.5,126.6 222.8,126.6 222.8,128.9 221.5,128.9"/>
<polygon fill="#FDE725" points="259.0,83.5 272.3,83.5 271.0,86.3 268.7,87.7 265.9,88.1 262.7,88.6 260.9,86.8"/>
<polygon fill="#FDE725" points="277.8,110.6 277.8,128.9 259.0,128.9 261.3,125.7 265.0,122.5 268.7,119.3 272.3,115.6 276.2,112.0"/>
</g>
<clipPath id="c2t02"><rect x="76" y="128" width="67" height="44"/></clipPath>
<g clip-path="url(#c2t02)">
<polygon fill="#FDE725" points="143.8,149.1 142.0,150.5 140.6,152.3 140.2,154.1 141.5,156.0 142.0,158.2 140.6,159.6 139.2,160.1 139.1,164.7 138.3,166.5 138.8,168.3 138.2,170.2 138.2,172.9 143.8,172.9"/>
</g>
<clipPath id="c2t12"><rect x="143" y="128" width="67" height="44"/></clipPath>
<g clip-path="url(#c2t12)">
<polygon fill="#FDE725" points="142.5,127.5 210.8,127.5 210.8,172.9 142.5,172.9"/>
<polygon fill="#440154" points="142.5,128.9 145.8,129.8 148.5,131.2 152.2,131.7 154.9,132.6 155.4,135.3 156.8,137.2 159.0,136.2 160.0,138.1 161.3,139.0 162.7,137.2 163.0,135.3 164.1,135.3 163.9,138.1 163.2,140.8 163.6,143.6 165.5,144.5 168.2,145.0 171.4,145.4 173.7,146.8 173.2,148.2 170.5,148.6 167.3,148.6 165.0,149.5 166.4,151.8 166.8,153.2 164.5,154.1 161.8,155.0 159.0,156.0 156.8,156.9 155.8,154.6 154.5,152.8 154.0,150.9 152.6,149.5 150.3,148.6 146.7,148.3 142.5,148.6"/>
<polygon fill="#FDE725" points="151.7,135.8 153.5,135.2 154.5,137.2 155.4,139.5 154.9,141.8 153.1,143.1 151.4,142.7 151.2,140.8 152.2,139.0 151.7,137.2"/>
<polygon fill="#440154" points="171.4,153.7 173.7,152.8 175.1,153.7 174.2,155.0 172.3,156.0 171.0,155.5"/>
<polygon fill="#440154" points="176.9,150.0 178.9,150.0 178.9,152.0 176.9,152.0"/>
<polygon fill="#440154" points="174.6,146.8 176.0,146.8 176.0,148.6 174.6,148.6"/>
<polygon fill="#440154" points="177.8,137.6 179.2,137.6 179.2,139.0 177.8,139.0"/>
<polygon fill="#440154" points="188.8,143.8 190.2,143.8 190.2,145.2 188.8,145.2"/>
<polygon fill="#440154" points="193.9,133.7 195.2,133.7 195.2,135.2 193.9,135.2"/>
<polygon fill="#440154" points="203.0,133.7 204.2,133.7 204.2,135.2 203.0,135.2"/>
<polygon fill="#440154" points="203.0,137.2 204.6,136.7 204.9,139.0 204.0,140.8 204.4,142.7 206.2,144.5 207.6,147.2 208.1,149.5 206.2,148.6 204.0,150.0 201.7,149.5 199.8,147.7 198.0,145.9 196.2,144.5 198.0,143.6 200.3,142.7 199.8,140.4 201.7,139.9 203.0,139.0"/>
<polygon fill="#440154" points="195.2,150.0 197.1,149.3 198.5,149.8 197.1,150.9 196.2,152.0 195.1,151.4"/>
<polygon fill="#440154" points="198.0,154.6 200.8,153.8 201.2,154.8 198.9,156.0 198.0,155.7"/>
<polygon fill="#440154" points="187.0,157.3 188.8,156.6 189.8,156.0 190.7,157.8 191.1,159.6 189.3,160.1 187.9,159.2"/>
<polygon fill="#440154" points="155.8,160.1 158.1,160.5 160.9,161.0 163.6,160.8 165.0,159.6 167.0,158.2 167.9,158.7 166.4,160.1 164.5,161.5 163.2,163.3 162.7,165.6 161.3,166.5 159.5,165.6 158.4,163.8 157.7,161.9 156.0,161.5"/>
<polygon fill="#440154" points="146.7,162.8 148.0,162.8 148.0,164.7 146.7,164.7"/>
<polygon fill="#440154" points="148.0,169.2 149.9,168.3 152.2,167.9 154.5,166.5 156.8,164.7 157.7,165.6 155.8,167.4 153.5,168.8 151.7,170.2 150.8,172.9 148.0,172.9"/>
<polygon fill="#440154" points="145.8,167.0 147.1,167.0 147.1,168.2 145.8,168.2"/>
<polygon fill="#440154" points="178.9,161.0 180.1,161.0 180.1,162.8 178.9,162.8"/>
<polygon fill="#440154" points="184.7,161.5 186.1,160.5 185.6,162.4 183.8,164.2 182.9,165.1 182.6,164.2"/>
<polygon fill="#440154" points="190.2,162.4 192.0,161.9 192.0,163.8 190.7,165.1 189.8,164.7"/>
<polygon fill="#440154" points="203.5,164.7 205.2,164.7 205.2,166.0 203.5,166.0"/>
<polygon fill="#440154" points="207.2,169.7 208.5,168.3 210.8,167.4 210.8,172.9 207.2,172.9"/>
<polygon fill="#440154" points="176.0,168.8 177.4,169.2 178.3,171.1 176.9,170.6"/>
<polygon fill="#440154" points="181.0,170.2 182.9,169.7 183.2,172.9 181.5,172.9"/>
</g>
<clipPath id="c2t22"><rect x="210" y="128" width="67" height="44"/></clipPath>
<g clip-path="url(#c2t22)">
<polygon fill="#FDE725" points="209.5,127.5 277.8,127.5 277.8,172.9 209.5,172.9"/>
<polygon fill="#440154" points="227.9,127.5 253.1,127.5 252.6,130.3 250.3,131.7 248.0,133.5 246.7,135.3 244.4,135.8 243.0,137.6 240.7,139.5 238.9,141.3 238.0,142.7 239.3,144.5 241.6,146.8 244.4,145.9 247.6,145.0 250.3,145.4 249.4,147.2 247.6,148.6 245.8,150.5 243.5,151.8 241.6,153.2 240.2,155.0 240.7,157.3 242.5,159.6 244.4,161.5 246.2,163.3 244.4,164.2 243.0,165.6 243.5,168.3 244.8,169.7 248.0,170.2 250.3,168.8 250.8,170.6 249.4,172.9 227.0,172.9 228.3,170.2 229.2,168.3 228.3,166.5 226.5,164.7 224.7,164.2 222.8,165.6 220.1,165.6 217.8,166.0 216.0,165.1 216.9,163.3 218.7,161.5 219.6,159.2 221.0,157.3 221.0,155.0 219.2,153.7 216.9,153.2 215.5,151.4 216.4,149.5 217.8,148.6 219.2,147.7 218.7,145.9 217.3,145.0 216.9,143.1 215.5,141.3 214.1,139.9 214.6,138.5 216.9,139.5 219.6,139.5 222.4,138.5 224.2,137.2 225.6,135.8 227.4,134.0 227.9,131.7"/>
<polygon fill="#FDE725" points="216.9,143.1 219.2,142.2 221.0,143.1 220.5,144.5 218.7,145.4 217.3,145.0"/>
<polygon fill="#440154" points="211.8,128.9 215.0,128.5 214.6,130.3 212.3,130.8"/>
<polygon fill="#440154" points="211.4,133.0 215.5,132.6 215.7,134.0 211.8,134.4"/>
<polygon fill="#440154" points="220.1,132.1 222.4,131.2 224.7,129.8 227.0,130.8 227.4,132.1 225.1,133.0 223.3,134.4 221.5,135.3 220.1,134.0"/>
<polygon fill="#440154" points="211.8,146.8 213.7,147.2 213.8,148.9 212.0,148.6"/>
<polygon fill="#440154" points="269.1,139.9 270.5,138.1 272.3,136.2 274.2,137.2 274.6,139.0 273.2,140.8 271.4,142.7 269.4,142.7"/>
<polygon fill="#440154" points="271.0,159.6 272.8,158.2 274.2,157.8 273.7,159.6 272.3,161.0 271.0,161.0"/>
<polygon fill="#440154" points="262.2,131.8 264.1,131.8 264.1,133.0 262.2,133.0"/>
<polygon fill="#440154" points="265.0,144.7 266.1,144.7 266.1,145.9 265.0,145.9"/>
<polygon fill="#440154" points="246.7,154.6 248.5,154.1 249.0,156.0 248.0,157.8 247.1,157.3"/>
<polygon fill="#440154" points="252.6,154.1 254.0,154.1 254.0,156.4 252.6,156.4"/>
<polygon fill="#440154" points="252.6,157.8 254.0,157.8 254.0,160.1 252.6,160.1"/>
<polygon fill="#440154" points="256.8,159.6 258.1,159.6 258.1,161.0 256.8,161.0"/>
<polygon fill="#440154" points="247.8,159.6 249.0,159.6 249.0,161.0 247.8,161.0"/>
<polygon fill="#440154" points="246.7,162.8 248.0,162.4 248.0,165.6 246.7,165.1"/>
<polygon fill="#440154" points="255.8,127.5 258.1,127.5 257.7,129.4 256.3,129.8"/>
<polygon fill="#440154" points="209.5,168.3 211.8,167.9 211.8,171.5 209.5,172.9"/>
<polygon fill="#440154" points="248.0,140.8 249.4,140.8 249.4,142.2 248.0,142.2"/>
<polygon fill="#440154" points="251.7,140.8 252.9,140.8 252.9,141.9 251.7,141.9"/>
<polygon fill="#440154" points="249.0,143.1 250.8,143.1 250.8,145.0 249.0,145.0"/>
<polygon fill="#440154" points="219.2,128.5 221.0,128.0 221.0,129.1 219.2,129.4"/>
</g>
<clipPath id="c2t03"><rect x="76" y="172" width="67" height="44"/></clipPath>
<g clip-path="url(#c2t03)">
<polygon fill="#FDE725" points="138.8,171.5 143.8,171.5 143.8,216.9 131.0,216.9 131.5,213.2 133.3,211.0 134.7,209.1 132.8,207.8 131.0,206.8 130.1,205.5 131.5,203.6 133.3,201.8 134.7,199.5 134.2,196.8 133.3,194.0 134.7,192.6 135.6,190.8 133.3,189.4 133.8,187.6 136.5,187.8 138.3,187.1 138.2,183.9 137.0,181.6 136.5,179.8 137.9,177.5 137.2,175.2 138.3,173.4"/>
<polygon fill="#440154" points="136.0,189.9 138.8,189.9 138.8,191.7 136.0,191.7"/>
<polygon fill="#440154" points="134.7,206.4 136.5,206.4 138.3,207.8 137.0,209.1 135.1,208.7"/>
<polygon fill="#440154" points="132.8,211.4 134.2,211.4 134.2,212.8 132.8,212.8"/>
</g>
<clipPath id="c2t13"><rect x="143" y="172" width="67" height="44"/></clipPath>
<g clip-path="url(#c2t13)">
<polygon fill="#FDE725" points="142.5,171.5 210.8,171.5 210.8,216.9 142.5,216.9"/>
<polygon fill="#440154" points="146.7,177.5 149.4,176.1 152.2,174.3 154.9,171.5 157.7,171.5 157.7,173.8 156.8,176.1 155.8,178.4 154.9,180.7 153.5,183.0 152.2,184.4 150.8,183.0 149.4,181.2 148.0,179.3"/>
<polygon fill="#440154" points="156.3,182.5 158.1,181.6 160.0,179.8 160.4,178.4 161.8,179.3 162.7,181.2 164.5,180.7 165.0,178.4 165.7,179.3 165.5,181.6 166.4,183.9 168.2,182.5 170.5,182.1 173.2,183.5 175.5,185.3 176.0,187.6 175.1,189.4 172.3,189.0 170.5,188.0 168.2,188.5 165.9,189.0 164.1,187.6 162.7,186.2 161.3,187.1 160.4,189.0 158.6,189.9 157.5,188.5 157.7,186.2 156.8,184.4"/>
<polygon fill="#440154" points="169.6,174.8 171.4,173.4 172.8,174.8 174.6,175.2 173.2,176.6 171.0,176.6"/>
<polygon fill="#440154" points="172.3,179.3 174.6,179.3 175.1,180.7 173.7,181.2"/>
<polygon fill="#440154" points="176.5,178.4 179.2,178.2 180.8,178.6 180.1,180.2 178.3,180.7 176.9,180.1"/>
<polygon fill="#440154" points="143.9,191.2 145.8,189.4 147.6,188.0 149.4,187.1 151.7,188.5 153.5,189.9 153.1,191.2 151.2,190.8 149.4,191.2 148.0,192.6 146.2,191.7 144.8,192.6 144.8,194.5 143.9,194.5"/>
<polygon fill="#440154" points="152.2,194.0 155.8,194.0 155.8,196.9 152.2,196.9"/>
<polygon fill="#440154" points="167.9,190.8 171.9,190.8 171.9,192.0 167.9,192.0"/>
<polygon fill="#440154" points="177.4,190.3 179.7,189.9 179.2,191.2 177.8,192.0"/>
<polygon fill="#440154" points="186.1,191.7 188.8,191.7 188.8,192.9 186.1,192.9"/>
<polygon fill="#440154" points="154.9,201.3 156.8,200.9 158.6,201.8 158.1,203.2 156.8,204.1 155.4,203.2"/>
<polygon fill="#440154" points="164.1,200.9 165.9,200.4 168.2,199.5 170.0,198.1 171.0,198.6 169.6,200.0 167.8,200.9 165.5,201.8 164.3,202.1"/>
<polygon fill="#440154" points="174.2,195.8 175.8,195.8 175.8,196.9 174.2,196.9"/>
<polygon fill="#440154" points="184.1,195.8 185.2,195.8 185.2,196.9 184.1,196.9"/>
<polygon fill="#440154" points="172.2,200.9 173.2,200.9 173.2,202.7 172.2,202.7"/>
<polygon fill="#440154" points="173.2,206.4 175.5,205.9 178.8,205.0 178.6,207.3 177.4,209.6 176.5,211.9 174.6,212.8 173.2,212.3 174.2,210.0 173.7,208.2"/>
<polygon fill="#440154" points="171.0,206.4 172.2,206.4 172.2,208.2 171.0,208.2"/>
<polygon fill="#440154" points="167.8,213.7 169.6,211.4 171.0,211.0 170.5,213.2 169.1,216.9 167.3,216.9"/>
<polygon fill="#440154" points="180.6,207.8 182.4,206.4 184.7,205.5 186.1,204.1 187.9,205.0 189.8,204.5 190.7,205.9 193.0,206.4 194.3,208.2 193.0,209.6 190.7,208.7 188.4,208.7 187.9,211.0 187.0,213.2 185.2,213.2 184.7,211.0 182.9,210.0 181.0,209.6"/>
<polygon fill="#440154" points="195.7,204.1 198.0,202.2 197.5,199.5 199.8,198.1 202.6,197.7 205.3,197.2 208.1,196.3 209.0,193.5 210.8,193.1 210.8,209.6 208.1,210.0 206.7,212.3 204.0,212.8 202.6,210.5 199.8,210.0 197.5,209.1 196.6,207.3 195.2,205.9"/>
<polygon fill="#440154" points="193.0,206.4 196.2,205.9 196.6,208.2 194.3,209.1"/>
<polygon fill="#440154" points="198.9,177.0 200.3,174.8 201.7,173.4 204.4,172.5 207.2,171.5 209.0,171.5 208.5,173.8 206.2,174.8 204.4,174.6 202.6,175.7 201.2,177.5 199.7,178.0"/>
<polygon fill="#440154" points="205.2,183.0 207.2,182.1 208.8,183.0 207.2,184.4 205.3,184.7"/>
<polygon fill="#440154" points="202.1,189.4 204.0,189.0 203.0,190.8 202.1,190.8"/>
<polygon fill="#440154" points="204.0,194.0 205.2,194.0 205.2,196.0 204.0,196.0"/>
<polygon fill="#440154" points="146.2,172.9 148.0,172.9 148.0,174.0 146.2,174.0"/>
<polygon fill="#440154" points="163.0,174.8 164.1,174.8 164.1,176.1 163.0,176.1"/>
<polygon fill="#440154" points="185.6,180.7 187.0,180.7 187.0,181.9 185.6,181.9"/>
<polygon fill="#440154" points="193.0,180.7 194.2,180.7 194.2,181.9 193.0,181.9"/>
<polygon fill="#440154" points="187.9,186.7 189.0,186.7 189.0,187.8 187.9,187.8"/>
<polygon fill="#440154" points="149.9,211.9 151.1,211.9 151.1,213.0 149.9,213.0"/>
<polygon fill="#440154" points="156.0,211.9 157.2,211.9 157.2,213.0 156.0,213.0"/>
<polygon fill="#440154" points="143.9,213.7 147.1,213.2 147.6,216.9 143.9,216.9"/>
</g>
<clipPath id="c2t23"><rect x="210" y="172" width="67" height="44"/></clipPath>
<g clip-path="url(#c2t23)">
<polygon fill="#FDE725" points="209.5,171.5 277.8,171.5 277.8,216.9 209.5,216.9"/>
<polygon fill="#440154" points="224.2,171.5 250.8,171.5 250.8,174.8 248.5,176.1 245.8,176.1 243.9,177.5 242.5,176.6 242.1,174.3 240.7,174.3 239.8,176.1 240.2,178.4 242.1,180.2 244.4,181.6 244.8,183.5 243.0,184.4 240.7,183.9 238.9,182.5 238.4,180.7 236.6,181.6 234.3,183.0 232.0,183.9 229.7,185.3 227.9,184.4 226.0,184.8 224.2,183.9 224.7,181.6 226.0,179.8 225.1,178.0 223.8,178.4 223.3,176.6 225.1,175.7 225.6,173.8"/>
<polygon fill="#FDE725" points="227.4,179.3 229.2,178.4 230.6,179.8 229.7,181.6 228.3,182.5 227.2,181.2"/>
<polygon fill="#FDE725" points="231.1,174.3 232.9,173.4 234.0,174.8 233.7,177.0 232.0,178.0 230.9,176.6"/>
<polygon fill="#440154" points="216.9,178.0 220.1,178.0 220.1,179.5 216.9,179.5"/>
<polygon fill="#440154" points="211.8,174.3 213.2,172.5 214.6,171.5 214.1,173.8 213.2,175.7 212.8,177.5 211.8,177.0"/>
<polygon fill="#440154" points="254.0,174.3 255.8,173.8 255.8,175.7 254.5,177.0 253.8,176.1"/>
<polygon fill="#440154" points="258.1,173.8 261.3,173.7 261.8,174.8 259.5,175.7 258.4,175.2"/>
<polygon fill="#440154" points="248.0,181.6 250.3,181.6 250.8,183.5 249.4,183.9 248.0,183.0"/>
<polygon fill="#440154" points="243.9,186.7 245.3,186.7 245.3,188.0 243.9,188.0"/>
<polygon fill="#440154" points="252.6,179.8 254.0,179.8 254.0,181.0 252.6,181.0"/>
<polygon fill="#440154" points="264.1,179.8 265.2,179.8 265.2,181.0 264.1,181.0"/>
<polygon fill="#440154" points="265.9,182.5 268.2,180.7 270.5,179.3 273.2,178.4 277.8,178.0 277.8,189.4 274.2,189.9 272.3,190.8 270.5,192.2 268.7,194.0 267.8,193.1 269.6,190.8 270.5,188.5 268.7,187.6 266.8,186.7 266.1,184.8"/>
<polygon fill="#FDE725" points="274.2,180.7 277.8,180.7 277.8,184.4 274.2,184.4"/>
<polygon fill="#440154" points="209.5,193.1 216.4,193.1 218.7,194.0 220.1,195.7 224.7,196.0 228.8,195.7 229.7,196.8 234.8,196.9 236.1,198.1 234.3,199.5 232.5,200.9 232.9,203.2 234.8,204.5 236.1,206.4 235.7,208.7 232.9,209.4 228.3,209.1 223.8,209.6 219.2,209.8 217.3,208.2 216.0,207.3 214.1,209.1 212.3,210.5 209.5,210.5"/>
<polygon fill="#440154" points="226.0,214.6 229.2,213.2 232.9,211.9 236.6,210.5 240.2,210.0 239.8,211.9 237.5,213.7 234.8,216.9 226.0,216.9"/>
<polygon fill="#440154" points="241.6,203.6 243.5,202.2 245.3,200.9 248.5,200.9 251.2,200.4 254.0,200.0 256.8,200.4 256.3,202.7 255.4,204.5 253.1,204.5 251.2,203.2 249.0,202.7 246.7,202.7 244.4,203.6 243.0,205.5 241.2,205.5"/>
<polygon fill="#440154" points="257.2,206.4 259.0,204.1 260.0,202.2 261.8,203.2 264.1,203.6 265.9,204.5 263.6,205.5 261.3,206.1 259.5,206.8 257.7,207.3"/>
<polygon fill="#440154" points="253.5,209.1 255.4,208.7 257.2,210.0 259.5,211.4 260.0,212.8 258.1,213.7 256.8,212.8 254.9,211.0"/>
<polygon fill="#440154" points="243.0,210.5 244.8,210.0 245.8,211.4 243.9,211.9"/>
<polygon fill="#440154" points="262.2,213.2 265.0,213.1 264.5,214.6 262.7,214.9"/>
<polygon fill="#440154" points="247.6,211.9 249.0,211.9 249.0,213.0 247.6,213.0"/>
<polygon fill="#440154" points="274.2,171.5 277.8,171.5 277.8,172.9 274.2,172.9"/>
</g>
<clipPath id="c2s143_40"><rect x="143" y="40" width="48" height="30"/></clipPath>
<g clip-path="url(#c2s143_40)">
<polygon fill="#FDE725" points="142.7,39.7 191.4,39.7 191.4,70.6 142.7,70.6"/>
<polygon fill="#440154" points="142.7,44.4 144.2,44.1 145.8,44.4 147.4,45.9 148.0,47.5 147.4,49.4 148.3,50.9 148.9,52.2 147.7,53.4 146.4,54.1 144.9,54.7 142.7,55.0"/>
<polygon fill="#440154" points="150.8,44.7 151.8,44.1 153.0,45.0 153.9,46.9 154.9,49.4 155.2,51.9 154.6,53.4 153.0,53.8 152.1,52.2 151.4,50.3 150.5,49.4 151.1,47.5 150.8,45.9"/>
<polygon fill="#440154" points="156.1,45.9 157.1,46.2 158.3,47.2 159.6,47.5 160.8,48.8 161.8,50.3 161.1,51.6 159.2,51.9 158.3,50.9 158.0,49.4 157.7,47.8 156.4,46.9"/>
<polygon fill="#440154" points="158.9,43.1 159.9,42.2 160.8,42.2 160.8,43.1 159.9,43.9 159.1,43.9"/>
<polygon fill="#440154" points="164.2,46.2 165.8,45.9 166.8,44.7 168.0,44.1 169.9,44.4 169.9,45.6 168.6,46.2 168.3,48.1 167.1,48.4 167.1,50.3 168.0,51.2 169.6,51.6 169.9,53.4 169.9,55.6 168.9,56.6 168.9,57.8 168.0,57.5 167.7,55.9 166.4,55.3 164.6,54.7 164.6,54.1 166.4,53.8 167.1,52.5 166.4,51.2 166.1,49.4 165.8,47.8 164.6,47.5"/>
<polygon fill="#440154" points="176.1,42.5 177.1,41.6 180.5,41.2 183.6,41.6 186.8,40.9 191.4,40.8 191.4,42.5 189.2,42.8 186.8,42.5 184.2,43.1 183.0,42.8 181.1,43.4 179.2,43.1 178.6,44.7 177.7,44.1 176.4,43.4"/>
<polygon fill="#440154" points="172.1,49.4 173.3,49.1 174.2,50.0 175.5,50.3 176.4,51.2 177.4,52.2 178.3,51.2 178.9,50.9 179.2,52.5 179.6,54.1 180.2,55.6 179.9,57.5 179.6,58.8 178.3,58.1 177.4,56.6 176.4,55.3 175.2,54.7 173.9,54.1 173.0,52.5 172.4,50.9"/>
<polygon fill="#440154" points="186.1,50.3 185.5,51.6 184.2,52.8 183.0,54.1 181.8,55.3 180.8,56.2 180.4,55.6 181.4,54.4 182.7,53.1 183.9,51.9 185.0,50.6 185.6,49.7"/>
<polygon fill="#440154" points="186.8,46.6 187.7,45.9 188.6,46.6 188.3,47.8 187.1,48.4 186.4,47.8"/>
<polygon fill="#440154" points="178.9,49.1 179.9,49.1 179.9,50.0 178.9,50.0"/>
<polygon fill="#440154" points="183.0,44.9 183.9,44.9 183.9,45.8 183.0,45.8"/>
<polygon fill="#440154" points="163.9,58.0 164.9,58.0 164.9,58.9 163.9,58.9"/>
<polygon fill="#440154" points="161.1,54.9 163.0,54.9 163.0,55.6 161.1,55.6"/>
<polygon fill="#440154" points="142.7,58.1 144.9,57.2 146.8,56.2 149.2,55.3 151.1,55.6 152.4,56.9 154.2,58.1 156.1,57.5 157.7,57.2 159.2,58.1 160.5,59.1 160.8,61.2 159.9,62.5 158.3,62.8 156.4,63.1 154.9,64.1 153.0,65.0 150.5,65.6 148.0,66.2 145.5,67.2 142.7,67.8"/>
<polygon fill="#440154" points="148.9,69.4 151.1,68.4 153.9,67.5 156.4,66.6 157.7,66.2 159.2,67.5 161.1,68.4 161.8,70.6 148.9,70.6"/>
<polygon fill="#440154" points="171.1,59.4 172.4,58.8 173.6,58.4 174.2,60.0 175.5,61.6 175.8,63.8 175.8,66.6 174.6,65.6 173.3,64.7 172.4,63.1 172.1,61.6 171.2,60.6"/>
<polygon fill="#440154" points="163.3,66.6 164.6,65.6 166.4,64.7 167.1,64.1 168.0,65.0 169.2,64.4 169.9,65.3 168.9,66.2 168.6,67.8 167.7,69.1 167.1,70.6 166.1,69.4 164.9,68.1 163.9,67.5"/>
<polygon fill="#440154" points="182.1,59.4 183.0,59.7 182.4,60.9 181.1,62.2 180.5,63.4 179.2,63.8 179.1,62.8 180.2,61.6 181.1,60.3"/>
<polygon fill="#440154" points="191.4,55.6 189.6,57.2 188.0,58.8 186.8,60.0 186.1,61.6 187.1,62.5 187.7,64.1 186.8,65.0 185.5,66.2 184.2,67.5 184.2,70.6 187.1,70.6 188.0,69.1 189.6,68.1 191.4,67.8"/>
</g>
<clipPath id="c2s143_62"><rect x="143" y="62" width="67" height="44"/></clipPath>
<g clip-path="url(#c2s143_62)">
<polygon fill="#FDE725" points="142.5,61.5 210.8,61.5 210.8,106.9 142.5,106.9"/>
<polygon fill="#440154" points="142.5,61.5 160.4,61.5 160.0,62.9 156.8,63.4 154.0,65.2 150.8,66.1 147.6,67.0 144.8,67.5 142.5,68.0"/>
<polygon fill="#440154" points="142.5,73.0 144.4,73.9 145.8,76.7 146.7,80.3 147.1,84.0 145.8,85.8 143.9,87.7 142.5,88.1"/>
<polygon fill="#440154" points="147.6,70.7 149.9,69.3 153.1,68.0 156.8,66.6 160.0,67.0 161.8,68.9 162.7,71.2 161.3,73.0 160.0,74.8 159.5,77.1 160.0,79.4 162.2,77.6 164.5,76.2 167.3,76.7 169.1,78.0 167.8,79.9 165.9,80.3 163.6,81.7 162.2,84.0 161.8,86.8 161.3,89.5 160.0,90.9 158.6,89.5 157.7,87.2 155.8,86.3 154.0,84.9 152.6,83.5 151.2,81.7 150.3,79.4 149.4,76.7 148.5,73.9"/>
<polygon fill="#440154" points="163.6,65.7 165.5,64.8 167.3,63.8 169.1,64.8 169.6,66.1 168.2,67.5 167.3,69.3 165.5,68.4 164.1,67.0"/>
<polygon fill="#440154" points="172.3,61.5 175.5,61.5 175.5,64.8 174.6,66.1 173.2,65.2 172.5,63.4"/>
<polygon fill="#440154" points="179.2,61.5 180.8,61.5 180.8,63.8 179.2,63.8"/>
<polygon fill="#440154" points="172.8,73.5 174.2,73.0 175.5,74.8 176.5,77.1 176.0,79.0 174.2,79.9 172.5,79.0 172.2,76.7"/>
<polygon fill="#440154" points="168.7,81.7 170.5,80.8 171.4,81.7 169.6,83.5 167.8,85.4 165.9,87.7 164.5,89.5 163.6,91.3 162.7,90.9 163.6,88.6 165.5,86.3 167.0,84.0"/>
<polygon fill="#440154" points="168.7,93.6 170.5,91.3 172.8,89.5 174.6,87.7 176.5,85.4 178.3,84.0 181.5,84.5 183.8,85.8 184.2,88.6 186.5,89.5 187.0,92.2 186.5,95.0 185.6,97.3 186.1,99.6 187.9,101.0 190.2,102.3 191.1,104.2 193.0,103.7 194.3,102.3 197.1,101.4 198.9,100.5 200.3,98.7 199.8,96.4 201.2,95.5 202.6,97.3 203.5,99.6 204.2,102.3 204.2,106.9 184.2,106.9 182.4,103.7 180.6,101.4 179.2,98.7 177.8,96.8 176.0,96.4 174.6,97.8 173.2,99.6 171.9,101.4 170.5,102.8 168.7,102.3 167.9,100.0 167.8,96.8"/>
<polygon fill="#440154" points="184.2,67.5 186.5,65.2 188.8,63.4 190.7,61.5 198.0,61.5 198.9,63.8 201.7,62.9 203.5,61.5 206.2,61.5 206.7,64.8 206.2,67.5 204.4,68.0 201.7,67.0 198.9,66.6 196.2,67.0 193.9,67.5 190.7,68.0 187.9,68.9 185.2,69.3"/>
<polygon fill="#440154" points="193.0,73.0 194.8,71.2 197.1,70.2 199.4,71.2 201.7,72.1 202.6,73.5 200.8,73.9 198.5,74.4 197.1,75.8 195.2,77.1 193.4,76.7"/>
<polygon fill="#440154" points="181.5,79.9 183.8,79.4 185.2,81.2 187.9,81.7 190.7,80.8 193.0,79.9 193.4,81.7 193.0,84.0 191.6,85.8 189.8,86.8 188.4,85.4 186.1,84.9 184.2,84.5 183.3,82.6"/>
<polygon fill="#440154" points="210.8,82.2 208.5,84.0 206.2,85.8 204.0,88.1 201.7,90.4 199.4,92.7 197.1,94.5 195.1,95.9 195.7,93.6 198.0,91.3 200.3,89.0 202.6,86.3 204.9,84.5 207.2,82.6 209.0,81.2 210.8,80.3"/>
<polygon fill="#440154" points="197.1,79.9 198.9,79.9 199.1,82.2 197.3,82.3"/>
<polygon fill="#440154" points="198.5,84.0 200.8,83.5 200.3,86.3 198.9,87.7 198.0,86.8"/>
<polygon fill="#440154" points="201.7,75.8 203.5,74.8 203.7,75.9 202.1,76.7"/>
<polygon fill="#440154" points="187.9,75.8 189.0,75.8 189.0,76.8 187.9,76.8"/>
<polygon fill="#440154" points="206.2,80.8 207.6,80.8 207.6,82.3 206.2,82.3"/>
<polygon fill="#440154" points="149.9,91.3 151.7,91.8 152.6,93.6 151.2,94.5 150.2,93.2"/>
<polygon fill="#440154" points="150.8,98.2 152.6,97.3 153.5,98.2 152.2,99.6 152.2,101.4 154.0,102.3 154.9,103.2 153.1,103.7 151.2,102.3 150.5,100.0"/>
<polygon fill="#440154" points="142.5,98.2 144.8,98.7 146.7,100.5 147.1,102.8 145.3,102.3 142.5,101.4"/>
<polygon fill="#440154" points="158.1,100.5 160.0,100.0 160.2,103.2 158.8,104.6 158.1,102.8"/>
<polygon fill="#440154" points="162.7,101.0 164.8,100.5 165.2,103.2 164.5,105.1 163.2,104.6"/>
<polygon fill="#440154" points="156.8,97.8 157.8,97.8 157.8,98.8 156.8,98.8"/>
<polygon fill="#440154" points="208.5,61.5 210.8,61.5 210.8,63.8 208.8,64.0"/>
<polygon fill="#440154" points="208.3,103.2 210.8,102.8 210.8,106.9 208.3,106.9"/>
</g>
<clipPath id="c2s186_80"><rect x="186" y="80" width="50" height="50"/></clipPath>
<g clip-path="url(#c2s186_80)">
<polygon fill="#FDE725" points="185.5,79.5 266.7,79.5 266.7,131.0 185.5,131.0"/>
<polygon fill="#440154" points="237.0,88.9 237.0,131.0 227.1,131.0 226.1,125.8 225.1,121.7 226.1,118.5 225.6,115.4 224.0,112.3 221.9,114.4 220.4,114.4 219.3,111.2 217.8,108.1 216.2,106.0 217.2,104.5 219.3,103.4 221.4,101.4 224.0,99.3 226.6,97.2 228.7,95.1 231.0,93.0 232.4,95.1 233.4,97.5 235.0,97.2 234.8,93.5 233.1,91.2 236.0,88.9"/>
<polygon fill="#440154" points="185.5,100.8 188.1,101.4 190.7,104.5 193.3,103.4 194.9,100.8 196.9,100.3 199.5,100.3 200.6,98.2 199.5,95.6 201.1,94.6 203.2,96.7 204.2,100.3 204.8,104.0 204.5,107.1 203.2,109.7 201.6,111.2 200.6,114.4 198.5,114.4 198.0,111.2 198.5,109.2 196.4,109.7 193.8,111.2 191.2,113.3 190.2,116.5 189.1,120.6 190.7,123.8 190.2,125.8 185.5,125.8"/>
<polygon fill="#440154" points="208.4,103.4 210.5,104.0 212.0,106.0 213.9,107.6 215.7,109.7 216.2,113.3 215.2,115.4 211.5,115.4 208.4,114.4 207.4,112.3 207.9,108.1"/>
<polygon fill="#440154" points="199.1,95.2 197.9,93.3 199.5,90.9 201.2,88.9 203.3,87.3 204.9,85.7 206.4,84.2 208.1,83.1 211.0,82.6 212.0,84.4 210.0,86.2 207.9,88.3 206.3,90.4 204.8,91.5 203.2,93.0 202.1,95.1"/>
<polygon fill="#440154" points="194.3,95.1 196.4,94.6 198.5,93.0 199.0,94.6 196.9,96.1 194.9,96.1"/>
<polygon fill="#440154" points="185.5,82.1 188.6,81.0 191.2,81.6 193.3,80.5 194.3,82.1 193.8,84.2 191.2,84.7 189.1,85.7 185.5,85.2"/>
<polygon fill="#440154" points="196.4,79.5 199.5,79.5 199.0,82.1 196.9,82.3"/>
<polygon fill="#440154" points="185.5,89.9 187.6,90.4 187.6,96.1 185.5,96.7"/>
<polygon fill="#440154" points="206.3,81.0 207.9,81.6 207.4,83.6 206.0,83.1"/>
<polygon fill="#440154" points="200.1,83.6 201.6,84.2 200.6,86.2 199.0,88.3 198.0,87.8 199.0,85.7"/>
<polygon fill="#440154" points="219.9,92.0 223.0,92.0 223.0,94.6 219.9,94.6"/>
<polygon fill="#440154" points="208.4,121.1 211.0,120.6 211.0,123.2 208.9,123.8"/>
<polygon fill="#440154" points="200.6,123.2 202.7,122.7 202.7,125.8 201.1,127.4 200.1,125.8"/>
<polygon fill="#440154" points="216.2,122.2 218.8,121.7 219.3,123.8 217.8,125.8 215.7,125.3"/>
<polygon fill="#440154" points="214.1,127.7 216.2,127.7 216.2,131.0 214.1,131.0"/>
<polygon fill="#440154" points="220.4,127.4 222.5,126.9 223.0,128.4 220.9,129.0"/>
<polygon fill="#440154" points="215.7,118.0 217.2,118.0 217.2,119.6 215.7,119.6"/>
<polygon fill="#440154" points="196.4,119.1 197.7,119.1 197.7,120.4 196.4,120.4"/>
</g>
<polygon fill="#FDE725" points="98.8,79.9 102.8,79.9 102.8,82.8 102.0,82.8 102.0,81.0 98.8,81.0"/>
<polygon fill="#FDE725" points="103.7,79.1 106.2,79.1 106.6,79.9 107.8,79.9 107.8,82.4 109.1,82.8 109.1,84.1 107.8,84.5 107.8,87.0 107.0,87.4 104.1,87.0 104.1,85.8 103.0,85.3 103.0,83.7 103.7,83.2"/>
<polygon fill="#FDE725" points="107.0,87.0 107.8,88.2 108.7,89.1 109.9,90.3 111.2,91.2 110.8,92.2 109.1,91.8 108.0,90.3 107.2,89.1 106.6,87.4"/>
<polygon fill="#FDE725" points="138.8,71.6 139.9,70.3 141.2,68.8 142.0,68.8 142.4,69.9 144.1,69.9 144.1,71.0 143.0,71.8 140.3,72.2 139.1,72.2"/>
<polygon fill="#FDE725" points="211.8,63.9 213.1,63.9 213.1,65.0 211.8,65.0"/>
<polygon fill="#FDE725" points="210.8,65.8 212.1,65.8 212.1,67.0 210.8,67.0"/>
<polygon fill="#FDE725" points="227.9,86.8 231.0,86.8 231.0,88.1 227.9,88.1"/>
<polygon fill="#FDE725" points="211.0,147.9 212.2,147.9 212.2,151.0 213.2,151.0 213.2,147.9 215.1,147.9 215.1,150.6 216.0,151.0 216.0,152.2 214.3,153.2 213.8,154.8 212.4,155.2 211.5,156.0 211.0,158.1 210.4,159.0 209.2,158.1 208.9,155.2 209.2,152.9 209.8,152.0 211.0,151.5"/>
<polygon fill="#FDE725" points="212.0,156.9 213.1,156.9 213.1,158.1 212.0,158.1"/>
<polygon fill="#FDE725" points="262.1,162.3 262.9,160.9 264.9,159.9 267.8,160.1 269.6,161.3 270.4,163.7 271.0,165.1 270.8,167.9 271.0,169.8 270.1,171.7 268.7,173.1 266.8,174.0 264.9,172.6 263.5,170.7 262.9,168.4 262.1,166.5 262.3,164.2"/>
<polygon fill="#FDE725" points="266.8,173.8 268.7,174.5 270.1,173.2 271.0,173.1 270.8,174.2 269.2,175.7 268.2,176.8 267.8,178.2 266.6,178.5 265.4,179.4 264.5,178.7 264.0,177.8 263.1,177.3 264.5,176.6 265.9,175.9"/>
<polygon fill="#FDE725" points="267.0,178.9 268.1,178.9 268.1,180.0 267.0,180.0"/>
<polygon fill="#FDE725" points="125.1,181.4 127.0,180.4 127.5,178.8 129.3,177.8 131.2,178.4 132.6,180.0 134.5,179.3 135.4,177.8 136.2,178.6 136.6,181.4 137.8,183.2 137.8,186.1 136.6,187.5 138.7,188.9 139.2,191.7 139.7,195.0 141.1,197.8 142.9,201.1 144.8,204.3 147.2,208.1 149.0,211.4 150.4,213.2 150.4,216.5 133.1,216.5 132.2,213.2 130.3,212.8 131.2,210.4 133.1,208.1 131.2,207.2 131.2,204.8 131.2,202.5 133.6,202.0 132.2,200.1 132.2,198.2 134.0,196.8 135.0,195.0 133.1,193.1 131.7,190.8 130.3,188.4 128.9,186.1 127.5,184.2 126.1,182.8"/>
</g>
<path d="M71.5,41.0H75 M71.5,63.8H75 M71.5,86.6H75 M71.5,109.4H75 M71.5,132.2H75 M71.5,155.0H75 M71.5,177.8H75 M71.5,200.6H75 M115.5,216V221 M161.0,216V221 M206.5,216V221 M252.0,216V221" stroke="#b0b0b0" stroke-width="1" fill="none"/>
<rect x="75.5" y="39.9" width="201.2" height="176.2" fill="none" stroke="#000" stroke-width="1"/>
<text class="a" transform="translate(115.8,233) scale(0.9,1)">7e+05</text>
<text class="a" transform="translate(161.3,233) scale(0.9,1)">720000</text>
<text class="a" transform="translate(206.8,233) scale(0.9,1)">740000</text>
<text class="a" transform="translate(252.3,233) scale(0.9,1)">760000</text>
<text class="a" transform="translate(67.4,63.6) rotate(-90) scale(0.885,1)">12630000</text>
<text class="a" transform="translate(67.4,132.1) rotate(-90) scale(0.885,1)">12600000</text>
<text class="a" transform="translate(67.4,200.5) rotate(-90) scale(0.885,1)">12570000</text>
<rect x="286.3" y="49.5" width="8" height="6" fill="#440154" stroke="#000"/>
<rect x="286.3" y="62.4" width="8" height="6" fill="#FDE725" stroke="#000"/>
<text class="l" x="303.8" y="56">0</text>
<text class="l" x="303.8" y="69">1</text>
</g>
<g transform="translate(384,240)">
<text class="t" x="176" y="31.8" textLength="124.5" lengthAdjust="spacingAndGlyphs">Fire_excl_anthro</text>
<rect x="77" y="41" width="199.3" height="174" fill="#440154"/>
<clipPath id="c3"><rect x="77" y="41" width="199.3" height="174"/></clipPath>
<g clip-path="url(#c3)" shape-rendering="crispEdges">
<polygon fill="#FDE725" points="98.8,79.9 102.8,79.9 102.8,82.8 102.0,82.8 102.0,81.0 98.8,81.0"/>
<polygon fill="#FDE725" points="103.7,79.1 106.2,79.1 106.6,79.9 107.8,79.9 107.8,82.4 109.1,82.8 109.1,84.1 107.8,84.5 107.8,87.0 107.0,87.4 104.1,87.0 104.1,85.8 103.0,85.3 103.0,83.7 103.7,83.2"/>
<polygon fill="#FDE725" points="107.0,87.0 107.8,88.2 108.7,89.1 109.9,90.3 111.2,91.2 110.8,92.2 109.1,91.8 108.0,90.3 107.2,89.1 106.6,87.4"/>
<polygon fill="#FDE725" points="140.8,70.6 142.1,70.6 142.1,71.9 140.8,71.9"/>
<polygon fill="#FDE725" points="212.7,147.7 213.9,147.7 213.9,148.9 212.7,148.9"/>
<polygon fill="#FDE725" points="214.5,150.6 215.7,150.6 215.7,151.8 214.5,151.8"/>
<polygon fill="#FDE725" points="125.1,181.4 127.0,180.4 127.5,178.8 129.3,177.8 131.2,178.4 132.6,180.0 134.5,179.3 135.4,177.8 136.2,178.6 136.6,181.4 137.8,183.2 138.1,186.1 136.8,187.0 135.0,187.5 134.0,188.9 135.4,190.0 139.0,190.0 139.0,191.7 136.6,191.9 134.5,191.7 134.0,192.8 132.2,192.8 131.9,190.8 131.2,188.9 129.8,187.5 128.7,185.9 127.5,184.2 126.1,182.8"/>
<polygon fill="#FDE725" points="132.2,198.7 133.4,197.3 134.5,195.9 135.2,196.6 134.5,198.2 135.0,199.9 132.4,199.9"/>
<polygon fill="#FDE725" points="130.9,202.0 132.2,202.0 132.2,203.9 130.9,203.9"/>
<polygon fill="#FDE725" points="130.0,212.3 131.2,210.4 132.6,209.0 134.5,207.6 135.2,206.2 136.2,206.9 136.6,207.8 138.1,207.4 139.0,208.1 137.3,209.0 135.9,209.5 134.5,210.4 133.8,211.8 134.0,212.8 132.8,213.1 131.7,212.5 130.6,213.2"/>
<polygon fill="#FDE725" points="142.0,214.4 144.3,214.0 145.3,213.1 145.9,214.0 148.1,214.4 148.1,216.5 142.0,216.5"/>
</g>
<path d="M71.5,41.0H75 M71.5,63.8H75 M71.5,86.6H75 M71.5,109.4H75 M71.5,132.2H75 M71.5,155.0H75 M71.5,177.8H75 M71.5,200.6H75 M115.5,216V221 M161.0,216V221 M206.5,216V221 M252.0,216V221" stroke="#b0b0b0" stroke-width="1" fill="none"/>
<rect x="75.5" y="39.9" width="201.2" height="176.2" fill="none" stroke="#000" stroke-width="1"/>
<text class="a" transform="translate(115.8,233) scale(0.9,1)">7e+05</text>
<text class="a" transform="translate(161.3,233) scale(0.9,1)">720000</text>
<text class="a" transform="translate(206.8,233) scale(0.9,1)">740000</text>
<text class="a" transform="translate(252.3,233) scale(0.9,1)">760000</text>
<text class="a" transform="translate(67.4,63.6) rotate(-90) scale(0.885,1)">12630000</text>
<text class="a" transform="translate(67.4,132.1) rotate(-90) scale(0.885,1)">12600000</text>
<text class="a" transform="translate(67.4,200.5) rotate(-90) scale(0.885,1)">12570000</text>
<rect x="286.3" y="49.5" width="8" height="6" fill="#440154" stroke="#000"/>
<rect x="286.3" y="62.4" width="8" height="6" fill="#FDE725" stroke="#000"/>
<text class="l" x="303.8" y="56">0</text>
<text class="l" x="303.8" y="69">1</text>
</g>
</svg>
</body></html>
